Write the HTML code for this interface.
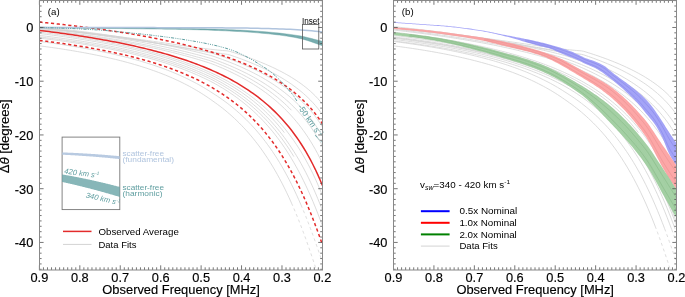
<!DOCTYPE html>
<html><head><meta charset="utf-8"><style>
*{margin:0;padding:0}
html,body{width:685px;height:297px;overflow:hidden;background:#fff}
svg{display:block;will-change:transform}
text{font-family:"Liberation Sans",sans-serif;fill:#000;stroke:#000;stroke-width:0.15px}
.nb{stroke:none}
.tc,.lb{stroke:none}
.tc{fill:#5f9ea0}
.lb{fill:#b0c4de}
</style></head>
<body>
<svg width="685" height="297" viewBox="0 0 685 297">
<defs>
<clipPath id="clipa"><rect x="39.4" y="0.6" width="283.0" height="268.7"/></clipPath>
<clipPath id="clipb"><rect x="393.5" y="0.6" width="283.0" height="268.7"/></clipPath>
</defs>
<rect width="685" height="297" fill="#fff"/>
<g fill="none" stroke="#d3d3d3" stroke-width="0.8" clip-path="url(#clipa)"><path d="M39.4,27.9 L41.78,28.12 L44.16,28.35 L46.53,28.58 L48.91,28.81 L51.29,29.04 L53.67,29.28 L56.05,29.51 L58.43,29.75 L60.8,30 L63.18,30.24 L65.56,30.49 L67.94,30.74 L70.32,30.99 L72.69,31.24 L75.07,31.5 L77.45,31.76 L79.83,32.02 L82.21,32.29 L84.58,32.55 L86.96,32.82 L89.34,33.1 L91.72,33.37 L94.1,33.65 L96.48,33.93 L98.85,34.21 L101.23,34.5 L103.61,34.78 L105.99,35.07 L108.37,35.37 L110.74,35.66 L113.12,35.96 L115.5,36.26 L117.88,36.57 L120.26,36.87 L122.64,37.18 L125.01,37.49 L127.39,37.8 L129.77,38.12 L132.15,38.44 L134.53,38.76 L136.9,39.08 L139.28,39.41 L141.66,39.73 L144.04,40.06 L146.42,40.39 L148.79,40.72 L151.17,41.06 L153.55,41.39 L155.93,41.73 L158.31,42.07 L160.69,42.41 L163.06,42.75 L165.44,43.09 L167.82,43.44 L170.2,43.78 L172.58,44.12 L174.95,44.46 L177.33,44.8 L179.71,45.15 L182.09,45.48 L184.47,45.82 L186.85,46.16 L189.22,46.49 L191.6,46.82 L193.98,47.15 L196.36,47.47 L198.74,47.79 L201.11,48.1 L203.49,48.4 L205.87,48.7 L208.25,48.99 L210.63,49.27 L213.01,49.54 L215.38,49.8 L217.76,50.04 L220.14,50.27 L222.52,50.49 L224.9,50.69 L227.27,50.86 L229.65,51.33 L232.03,52.06 L234.41,52.8 L236.79,53.55 L239.16,54.33 L241.54,55.12 L243.92,55.92 L246.3,56.75 L248.68,57.59 L251.06,58.46 L253.43,59.34 L255.81,60.25 L258.19,61.18 L260.57,62.13 L262.95,63.11 L265.32,64.12 L267.7,65.15 L270.08,66.21 L272.46,67.3 L274.84,68.42 L277.22,69.58 L279.59,70.78 L281.97,72.01 L284.35,73.29 L286.73,74.61 L289.11,75.98 L291.48,77.4 L293.86,78.88 L296.24,80.42 L298.62,82.02 L301,83.7 L303.37,85.47 L305.75,87.32 L308.13,89.28 L310.51,91.34 L312.89,93.54 L315.27,95.88 L317.64,98.38 L320.02,101.08 L322.4,103.99"/><path d="M39.4,28.31 L41.78,28.55 L44.16,28.78 L46.53,29.02 L48.91,29.26 L51.29,29.5 L53.67,29.75 L56.05,29.99 L58.43,30.25 L60.8,30.5 L63.18,30.75 L65.56,31.01 L67.94,31.27 L70.32,31.54 L72.69,31.8 L75.07,32.07 L77.45,32.35 L79.83,32.62 L82.21,32.9 L84.58,33.18 L86.96,33.46 L89.34,33.75 L91.72,34.04 L94.1,34.33 L96.48,34.63 L98.85,34.93 L101.23,35.23 L103.61,35.53 L105.99,35.84 L108.37,36.15 L110.74,36.47 L113.12,36.79 L115.5,37.11 L117.88,37.43 L120.26,37.76 L122.64,38.09 L125.01,38.42 L127.39,38.76 L129.77,39.1 L132.15,39.44 L134.53,39.79 L136.9,40.14 L139.28,40.49 L141.66,40.85 L144.04,41.21 L146.42,41.57 L148.79,41.93 L151.17,42.3 L153.55,42.67 L155.93,43.04 L158.31,43.42 L160.69,43.8 L163.06,44.18 L165.44,44.56 L167.82,44.95 L170.2,45.33 L172.58,45.72 L174.95,46.11 L177.33,46.5 L179.71,46.9 L182.09,47.29 L184.47,47.69 L186.85,48.08 L189.22,48.47 L191.6,48.87 L193.98,49.26 L196.36,49.65 L198.74,50.05 L201.11,50.43 L203.49,50.82 L205.87,51.2 L208.25,51.58 L210.63,51.95 L213.01,52.31 L215.38,52.67 L217.76,53.02 L220.14,53.36 L222.52,53.7 L224.9,54.02 L227.27,54.32 L229.65,54.89 L232.03,55.69 L234.41,56.5 L236.79,57.34 L239.16,58.19 L241.54,59.07 L243.92,59.96 L246.3,60.88 L248.68,61.82 L251.06,62.78 L253.43,63.77 L255.81,64.78 L258.19,65.82 L260.57,66.89 L262.95,67.99 L265.32,69.12 L267.7,70.28 L270.08,71.48 L272.46,72.72 L274.84,73.99 L277.22,75.3 L279.59,76.66 L281.97,78.06 L284.35,79.52 L286.73,81.02 L289.11,82.59 L291.48,84.21 L293.86,85.91 L296.24,87.67 L298.62,89.51 L301,91.44 L303.37,93.45 L305.75,95.58 L308.13,97.81 L310.51,100.17 L312.89,102.68 L315.27,105.34 L317.64,108.17 L320.02,111.21 L322.4,114.48"/><path d="M39.4,27.9 L41.78,28.13 L44.16,28.37 L46.53,28.61 L48.91,28.86 L51.29,29.1 L53.67,29.35 L56.05,29.61 L58.43,29.86 L60.8,30.12 L63.18,30.38 L65.56,30.64 L67.94,30.91 L70.32,31.18 L72.69,31.45 L75.07,31.72 L77.45,32 L79.83,32.28 L82.21,32.57 L84.58,32.85 L86.96,33.14 L89.34,33.44 L91.72,33.73 L94.1,34.03 L96.48,34.34 L98.85,34.64 L101.23,34.95 L103.61,35.27 L105.99,35.59 L108.37,35.91 L110.74,36.23 L113.12,36.56 L115.5,36.89 L117.88,37.22 L120.26,37.56 L122.64,37.9 L125.01,38.25 L127.39,38.6 L129.77,38.95 L132.15,39.31 L134.53,39.67 L136.9,40.03 L139.28,40.4 L141.66,40.77 L144.04,41.14 L146.42,41.52 L148.79,41.9 L151.17,42.29 L153.55,42.68 L155.93,43.07 L158.31,43.47 L160.69,43.87 L163.06,44.27 L165.44,44.68 L167.82,45.09 L170.2,45.5 L172.58,45.92 L174.95,46.34 L177.33,46.76 L179.71,47.19 L182.09,47.61 L184.47,48.04 L186.85,48.47 L189.22,48.91 L191.6,49.34 L193.98,49.78 L196.36,50.21 L198.74,50.65 L201.11,51.09 L203.49,51.52 L205.87,51.96 L208.25,52.39 L210.63,52.83 L213.01,53.42 L215.38,54.18 L217.76,54.95 L220.14,55.74 L222.52,56.54 L224.9,57.37 L227.27,58.21 L229.65,59.07 L232.03,59.96 L234.41,60.86 L236.79,61.79 L239.16,62.74 L241.54,63.71 L243.92,64.71 L246.3,65.73 L248.68,66.78 L251.06,67.86 L253.43,68.97 L255.81,70.11 L258.19,71.28 L260.57,72.49 L262.95,73.73 L265.32,75.01 L267.7,76.32 L270.08,77.68 L272.46,79.08 L274.84,80.53 L277.22,82.03 L279.59,83.58 L281.97,85.18 L284.35,86.85 L286.73,88.57 L289.11,90.37 L291.48,92.23 L293.86,94.17 L296.24,96.2 L298.62,98.32 L301,100.53 L303.37,102.85 L305.75,105.29 L308.13,107.86 L310.51,110.56 L312.89,113.42 L315.27,116.46 L317.64,119.69 L320.02,123.14 L322.4,126.83"/><path d="M39.4,26.65 L41.78,26.89 L44.16,27.14 L46.53,27.4 L48.91,27.65 L51.29,27.91 L53.67,28.17 L56.05,28.44 L58.43,28.71 L60.8,28.98 L63.18,29.25 L65.56,29.53 L67.94,29.81 L70.32,30.1 L72.69,30.38 L75.07,30.67 L77.45,30.97 L79.83,31.27 L82.21,31.57 L84.58,31.88 L86.96,32.19 L89.34,32.5 L91.72,32.82 L94.1,33.14 L96.48,33.47 L98.85,33.8 L101.23,34.13 L103.61,34.47 L105.99,34.81 L108.37,35.16 L110.74,35.51 L113.12,35.87 L115.5,36.23 L117.88,36.6 L120.26,36.97 L122.64,37.34 L125.01,37.72 L127.39,38.11 L129.77,38.5 L132.15,38.9 L134.53,39.3 L136.9,39.7 L139.28,40.12 L141.66,40.53 L144.04,40.96 L146.42,41.39 L148.79,41.82 L151.17,42.26 L153.55,42.71 L155.93,43.16 L158.31,43.62 L160.69,44.09 L163.06,44.56 L165.44,45.04 L167.82,45.52 L170.2,46.02 L172.58,46.51 L174.95,47.02 L177.33,47.53 L179.71,48.05 L182.09,48.58 L184.47,49.11 L186.85,49.65 L189.22,50.2 L191.6,50.75 L193.98,51.32 L196.36,51.89 L198.74,52.46 L201.11,53.05 L203.49,53.64 L205.87,54.24 L208.25,54.84 L210.63,55.46 L213.01,56.17 L215.38,56.97 L217.76,57.8 L220.14,58.64 L222.52,59.5 L224.9,60.38 L227.27,61.29 L229.65,62.21 L232.03,63.16 L234.41,64.13 L236.79,65.13 L239.16,66.15 L241.54,67.2 L243.92,68.27 L246.3,69.38 L248.68,70.51 L251.06,71.68 L253.43,72.87 L255.81,74.11 L258.19,75.38 L260.57,76.68 L262.95,78.03 L265.32,79.42 L267.7,80.85 L270.08,82.33 L272.46,83.86 L274.84,85.44 L277.22,87.08 L279.59,88.77 L281.97,90.53 L284.35,92.35 L286.73,94.24 L289.11,96.2 L291.48,98.25 L293.86,100.38 L296.24,102.6 L298.62,104.92 L301,107.35 L303.37,109.9 L305.75,112.57 L308.13,115.39 L310.51,118.35 L312.89,121.49 L315.27,124.8 L317.64,128.33 L320.02,132.08 L322.4,136.09"/><path d="M39.4,27.81 L41.78,28.07 L44.16,28.33 L46.53,28.59 L48.91,28.85 L51.29,29.12 L53.67,29.39 L56.05,29.67 L58.43,29.94 L60.8,30.23 L63.18,30.51 L65.56,30.8 L67.94,31.09 L70.32,31.39 L72.69,31.68 L75.07,31.99 L77.45,32.29 L79.83,32.6 L82.21,32.92 L84.58,33.24 L86.96,33.56 L89.34,33.89 L91.72,34.22 L94.1,34.55 L96.48,34.89 L98.85,35.24 L101.23,35.59 L103.61,35.94 L105.99,36.3 L108.37,36.66 L110.74,37.03 L113.12,37.4 L115.5,37.78 L117.88,38.17 L120.26,38.55 L122.64,38.95 L125.01,39.35 L127.39,39.75 L129.77,40.16 L132.15,40.58 L134.53,41 L136.9,41.43 L139.28,41.87 L141.66,42.31 L144.04,42.75 L146.42,43.21 L148.79,43.67 L151.17,44.14 L153.55,44.61 L155.93,45.09 L158.31,45.58 L160.69,46.07 L163.06,46.57 L165.44,47.08 L167.82,47.6 L170.2,48.13 L172.58,48.66 L174.95,49.2 L177.33,49.75 L179.71,50.3 L182.09,50.87 L184.47,51.44 L186.85,52.02 L189.22,52.61 L191.6,53.21 L193.98,53.82 L196.36,54.44 L198.74,55.06 L201.11,55.7 L203.49,56.34 L205.87,57 L208.25,57.66 L210.63,58.33 L213.01,59.1 L215.38,59.96 L217.76,60.84 L220.14,61.74 L222.52,62.66 L224.9,63.6 L227.27,64.57 L229.65,65.56 L232.03,66.58 L234.41,67.62 L236.79,68.69 L239.16,69.78 L241.54,70.91 L243.92,72.07 L246.3,73.26 L248.68,74.48 L251.06,75.74 L253.43,77.04 L255.81,78.37 L258.19,79.75 L260.57,81.16 L262.95,82.62 L265.32,84.13 L267.7,85.69 L270.08,87.29 L272.46,88.96 L274.84,90.68 L277.22,92.46 L279.59,94.31 L281.97,96.22 L284.35,98.21 L286.73,100.28 L289.11,102.42 L291.48,104.66 L293.86,106.99 L296.24,109.43 L298.62,111.97 L301,114.63 L303.37,117.42 L305.75,120.34 L308.13,123.42 L310.51,126.66 L312.89,130.08 L315.27,133.7 L317.64,137.54 L320.02,141.62 L322.4,145.96"/><path d="M39.4,29.15 L41.78,29.41 L44.16,29.67 L46.53,29.94 L48.91,30.21 L51.29,30.49 L53.67,30.77 L56.05,31.05 L58.43,31.34 L60.8,31.63 L63.18,31.92 L65.56,32.22 L67.94,32.52 L70.32,32.82 L72.69,33.13 L75.07,33.44 L77.45,33.76 L79.83,34.08 L82.21,34.4 L84.58,34.73 L86.96,35.06 L89.34,35.4 L91.72,35.74 L94.1,36.09 L96.48,36.44 L98.85,36.79 L101.23,37.15 L103.61,37.52 L105.99,37.89 L108.37,38.26 L110.74,38.64 L113.12,39.03 L115.5,39.42 L117.88,39.82 L120.26,40.22 L122.64,40.63 L125.01,41.04 L127.39,41.46 L129.77,41.89 L132.15,42.32 L134.53,42.76 L136.9,43.2 L139.28,43.65 L141.66,44.11 L144.04,44.58 L146.42,45.05 L148.79,45.53 L151.17,46.01 L153.55,46.5 L155.93,47 L158.31,47.51 L160.69,48.03 L163.06,48.55 L165.44,49.08 L167.82,49.62 L170.2,50.17 L172.58,50.72 L174.95,51.29 L177.33,51.86 L179.71,52.44 L182.09,53.03 L184.47,53.63 L186.85,54.24 L189.22,54.86 L191.6,55.48 L193.98,56.12 L196.36,56.77 L198.74,57.42 L201.11,58.09 L203.49,58.77 L205.87,59.45 L208.25,60.15 L210.63,60.86 L213.01,61.66 L215.38,62.57 L217.76,63.5 L220.14,64.45 L222.52,65.42 L224.9,66.42 L227.27,67.44 L229.65,68.49 L232.03,69.56 L234.41,70.67 L236.79,71.8 L239.16,72.97 L241.54,74.16 L243.92,75.39 L246.3,76.66 L248.68,77.96 L251.06,79.3 L253.43,80.68 L255.81,82.1 L258.19,83.57 L260.57,85.08 L262.95,86.64 L265.32,88.25 L267.7,89.91 L270.08,91.64 L272.46,93.42 L274.84,95.26 L277.22,97.17 L279.59,99.15 L281.97,101.21 L284.35,103.34 L286.73,105.56 L289.11,107.87 L291.48,110.27"/><path d="M39.4,29.98 L41.78,30.25 L44.16,30.52 L46.53,30.8 L48.91,31.08 L51.29,31.36 L53.67,31.65 L56.05,31.94 L58.43,32.24 L60.8,32.53 L63.18,32.84 L65.56,33.14 L67.94,33.45 L70.32,33.77 L72.69,34.08 L75.07,34.41 L77.45,34.73 L79.83,35.06 L82.21,35.4 L84.58,35.74 L86.96,36.08 L89.34,36.43 L91.72,36.79 L94.1,37.15 L96.48,37.51 L98.85,37.88 L101.23,38.25 L103.61,38.63 L105.99,39.02 L108.37,39.41 L110.74,39.8 L113.12,40.2 L115.5,40.61 L117.88,41.02 L120.26,41.44 L122.64,41.87 L125.01,42.3 L127.39,42.74 L129.77,43.18 L132.15,43.64 L134.53,44.09 L136.9,44.56 L139.28,45.03 L141.66,45.51 L144.04,46 L146.42,46.49 L148.79,47 L151.17,47.51 L153.55,48.03 L155.93,48.55 L158.31,49.09 L160.69,49.63 L163.06,50.18 L165.44,50.75 L167.82,51.32 L170.2,51.9 L172.58,52.48 L174.95,53.08 L177.33,53.69 L179.71,54.31 L182.09,54.94 L184.47,55.58 L186.85,56.23 L189.22,56.89 L191.6,57.56 L193.98,58.25 L196.36,58.94 L198.74,59.65 L201.11,60.37 L203.49,61.1 L205.87,61.84 L208.25,62.6 L210.63,63.37 L213.01,64.23 L215.38,65.18 L217.76,66.16 L220.14,67.16 L222.52,68.18 L224.9,69.23 L227.27,70.31 L229.65,71.42 L232.03,72.55 L234.41,73.72 L236.79,74.92 L239.16,76.15 L241.54,77.42 L243.92,78.72 L246.3,80.06 L248.68,81.44 L251.06,82.86 L253.43,84.32 L255.81,85.83 L258.19,87.39 L260.57,89 L262.95,90.66 L265.32,92.37 L267.7,94.14 L270.08,95.98 L272.46,97.88 L274.84,99.84 L277.22,101.88 L279.59,103.99 L281.97,106.19 L284.35,108.47 L286.73,110.84 L289.11,113.31 L291.48,115.89 L293.86,118.57 L296.24,121.37 L298.62,124.3 L301,127.36 L303.37,130.57 L305.75,133.94 L308.13,137.48 L310.51,141.21 L312.89,145.13 L315.27,149.28 L317.64,153.66 L320.02,158.31 L322.4,163.25"/><path d="M39.4,32.1 L41.78,32.39 L44.16,32.69 L46.53,32.99 L48.91,33.29 L51.29,33.6 L53.67,33.91 L56.05,34.23 L58.43,34.55 L60.8,34.88 L63.18,35.21 L65.56,35.55 L67.94,35.89 L70.32,36.23 L72.69,36.59 L75.07,36.94 L77.45,37.3 L79.83,37.67 L82.21,38.04 L84.58,38.42 L86.96,38.81 L89.34,39.2 L91.72,39.6 L94.1,40 L96.48,40.41 L98.85,40.83 L101.23,41.25 L103.61,41.68 L105.99,42.12 L108.37,42.57 L110.74,43.02 L113.12,43.48 L115.5,43.95 L117.88,44.42 L120.26,44.91 L122.64,45.4 L125.01,45.9 L127.39,46.42 L129.77,46.94 L132.15,47.47 L134.53,48.01 L136.9,48.56 L139.28,49.12 L141.66,49.69 L144.04,50.27 L146.42,50.86 L148.79,51.47 L151.17,52.08 L153.55,52.71 L155.93,53.35 L158.31,54 L160.69,54.67 L163.06,55.35 L165.44,56.05 L167.82,56.76 L170.2,57.48 L172.58,58.22 L174.95,58.98 L177.33,59.75 L179.71,60.54 L182.09,61.35 L184.47,62.18 L186.85,63.02 L189.22,63.89 L191.6,64.77 L193.98,65.68 L196.36,66.6 L198.74,67.55 L201.11,68.53 L203.49,69.52 L205.87,70.55 L208.25,71.59 L210.63,72.67 L213.01,73.77 L215.38,74.9 L217.76,76.06 L220.14,77.26 L222.52,78.48 L224.9,79.74 L227.27,81.03 L229.65,82.37 L232.03,83.73 L234.41,85.14 L236.79,86.59 L239.16,88.09 L241.54,89.63 L243.92,91.21 L246.3,92.85 L248.68,94.53 L251.06,96.27 L253.43,98.07 L255.81,99.93 L258.19,101.85 L260.57,103.83 L262.95,105.88 L265.32,108.01 L267.7,110.21 L270.08,112.49 L272.46,114.85 L274.84,117.3 L277.22,119.85 L279.59,122.49 L281.97,125.24 L284.35,128.09 L286.73,131.06 L289.11,134.16 L291.48,137.38 L293.86,140.74 L296.24,144.25 L298.62,147.91 L301,151.73 L303.37,155.73 L305.75,159.91 L308.13,164.3 L310.51,168.89 L312.89,173.7 L315.27,178.76 L317.64,184.06 L320.02,189.64 L322.4,195.5"/><path d="M39.4,33.5 L41.78,33.79 L44.16,34.09 L46.53,34.39 L48.91,34.69 L51.29,35 L53.67,35.31 L56.05,35.63 L58.43,35.95 L60.8,36.28 L63.18,36.61 L65.56,36.94 L67.94,37.29 L70.32,37.63 L72.69,37.98 L75.07,38.34 L77.45,38.71 L79.83,39.07 L82.21,39.45 L84.58,39.83 L86.96,40.22 L89.34,40.61 L91.72,41.01 L94.1,41.42 L96.48,41.83 L98.85,42.25 L101.23,42.67 L103.61,43.11 L105.99,43.55 L108.37,44 L110.74,44.46 L113.12,44.92 L115.5,45.39 L117.88,45.88 L120.26,46.37 L122.64,46.87 L125.01,47.37 L127.39,47.89 L129.77,48.42 L132.15,48.96 L134.53,49.5 L136.9,50.06 L139.28,50.63 L141.66,51.21 L144.04,51.8 L146.42,52.4 L148.79,53.02 L151.17,53.64 L153.55,54.28 L155.93,54.94 L158.31,55.6 L160.69,56.28 L163.06,56.98 L165.44,57.69 L167.82,58.41 L170.2,59.15 L172.58,59.91 L174.95,60.68 L177.33,61.47 L179.71,62.28 L182.09,63.1 L184.47,63.95 L186.85,64.81 L189.22,65.7 L191.6,66.61 L193.98,67.54 L196.36,68.49 L198.74,69.46 L201.11,70.46 L203.49,71.48 L205.87,72.53 L208.25,73.61 L210.63,74.71 L213.01,75.85 L215.38,77.02 L217.76,78.23 L220.14,79.47 L222.52,80.74 L224.9,82.05 L227.27,83.39 L229.65,84.78 L232.03,86.2 L234.41,87.67 L236.79,89.18 L239.16,90.74 L241.54,92.34 L243.92,94 L246.3,95.7 L248.68,97.47 L251.06,99.29 L253.43,101.17 L255.81,103.11 L258.19,105.12 L260.57,107.19 L262.95,109.34 L265.32,111.57 L267.7,113.88 L270.08,116.27 L272.46,118.74 L274.84,121.31 L277.22,123.98 L279.59,126.75 L281.97,129.64 L284.35,132.63"/><path d="M39.4,35.4 L41.78,35.69 L44.16,35.98 L46.53,36.28 L48.91,36.58 L51.29,36.88 L53.67,37.19 L56.05,37.51 L58.43,37.82 L60.8,38.15 L63.18,38.48 L65.56,38.81 L67.94,39.15 L70.32,39.5 L72.69,39.85 L75.07,40.2 L77.45,40.56 L79.83,40.93 L82.21,41.3 L84.58,41.68 L86.96,42.07 L89.34,42.46 L91.72,42.86 L94.1,43.27 L96.48,43.68 L98.85,44.1 L101.23,44.53 L103.61,44.96 L105.99,45.4 L108.37,45.85 L110.74,46.31 L113.12,46.78 L115.5,47.25 L117.88,47.74 L120.26,48.23 L122.64,48.73 L125.01,49.24 L127.39,49.77 L129.77,50.3 L132.15,50.84 L134.53,51.39 L136.9,51.95 L139.28,52.52 L141.66,53.11 L144.04,53.71 L146.42,54.31 L148.79,54.94 L151.17,55.57 L153.55,56.22 L155.93,56.88 L158.31,57.55 L160.69,58.24 L163.06,58.94 L165.44,59.66 L167.82,60.39 L170.2,61.14 L172.58,61.91 L174.95,62.69 L177.33,63.5 L179.71,64.32 L182.09,65.15 L184.47,66.01 L186.85,66.89 L189.22,67.79 L191.6,68.71 L193.98,69.65 L196.36,70.62 L198.74,71.61 L201.11,72.62 L203.49,73.66 L205.87,74.72 L208.25,75.81 L210.63,76.93 L213.01,78.1 L215.38,79.32 L217.76,80.57 L220.14,81.86 L222.52,83.18 L224.9,84.54 L227.27,85.95 L229.65,87.39 L232.03,88.87 L234.41,90.4 L236.79,91.98 L239.16,93.61 L241.54,95.28 L243.92,97.01 L246.3,98.8 L248.68,100.64 L251.06,102.55 L253.43,104.52 L255.81,106.55 L258.19,108.66 L260.57,110.84 L262.95,113.09 L265.32,115.43 L267.7,117.85 L270.08,120.36 L272.46,122.96 L274.84,125.66 L277.22,128.46 L279.59,131.37 L281.97,134.4 L284.35,137.54 L286.73,140.82 L289.11,144.22 L291.48,147.76 L293.86,151.46 L296.24,155.3 L298.62,159.31 L301,163.49 L303.37,167.85 L305.75,172.4 L308.13,177.14 L310.51,182.1 L312.89,187.27 L315.27,192.66 L317.64,198.29 L320.02,204.15 L322.4,210.26"/><path d="M39.4,36.9 L41.78,37.19 L44.16,37.48 L46.53,37.77 L48.91,38.07 L51.29,38.38 L53.67,38.69 L56.05,39 L58.43,39.32 L60.8,39.64 L63.18,39.97 L65.56,40.3 L67.94,40.64 L70.32,40.99 L72.69,41.34 L75.07,41.69 L77.45,42.05 L79.83,42.42 L82.21,42.8 L84.58,43.18 L86.96,43.56 L89.34,43.96 L91.72,44.36 L94.1,44.77 L96.48,45.18 L98.85,45.6 L101.23,46.03 L103.61,46.47 L105.99,46.91 L108.37,47.37 L110.74,47.83 L113.12,48.3 L115.5,48.78 L117.88,49.27 L120.26,49.76 L122.64,50.27 L125.01,50.79 L127.39,51.31 L129.77,51.85 L132.15,52.4 L134.53,52.96 L136.9,53.52 L139.28,54.11 L141.66,54.7 L144.04,55.3 L146.42,55.92 L148.79,56.55 L151.17,57.19 L153.55,57.85 L155.93,58.52 L158.31,59.2 L160.69,59.9 L163.06,60.62 L165.44,61.35 L167.82,62.1 L170.2,62.86 L172.58,63.64 L174.95,64.44 L177.33,65.26 L179.71,66.09 L182.09,66.95 L184.47,67.82 L186.85,68.72 L189.22,69.63 L191.6,70.57 L193.98,71.54 L196.36,72.52 L198.74,73.53 L201.11,74.57 L203.49,75.63 L205.87,76.72 L208.25,77.84 L210.63,78.98 L213.01,80.18 L215.38,81.44 L217.76,82.74 L220.14,84.07 L222.52,85.44 L224.9,86.85 L227.27,88.3 L229.65,89.8 L232.03,91.34 L234.41,92.93 L236.79,94.57 L239.16,96.26 L241.54,98 L243.92,99.8 L246.3,101.66 L248.68,103.58 L251.06,105.56 L253.43,107.61 L255.81,109.73 L258.19,111.93 L260.57,114.2 L262.95,116.55 L265.32,118.99 L267.7,121.51 L270.08,124.13 L272.46,126.85 L274.84,129.67 L277.22,132.6 L279.59,135.64 L281.97,138.8 L284.35,142.08 L286.73,145.5 L289.11,149.05 L291.48,152.75 L293.86,156.6"/><path d="M39.4,38.11 L41.78,38.39 L44.16,38.69 L46.53,38.98 L48.91,39.28 L51.29,39.59 L53.67,39.9 L56.05,40.22 L58.43,40.54 L60.8,40.86 L63.18,41.19 L65.56,41.53 L67.94,41.87 L70.32,42.22 L72.69,42.58 L75.07,42.94 L77.45,43.3 L79.83,43.68 L82.21,44.06 L84.58,44.44 L86.96,44.83 L89.34,45.23 L91.72,45.64 L94.1,46.05 L96.48,46.47 L98.85,46.9 L101.23,47.34 L103.61,47.78 L105.99,48.24 L108.37,48.7 L110.74,49.17 L113.12,49.65 L115.5,50.14 L117.88,50.63 L120.26,51.14 L122.64,51.66 L125.01,52.19 L127.39,52.72 L129.77,53.27 L132.15,53.83 L134.53,54.4 L136.9,54.99 L139.28,55.58 L141.66,56.19 L144.04,56.81 L146.42,57.44 L148.79,58.09 L151.17,58.75 L153.55,59.43 L155.93,60.12 L158.31,60.82 L160.69,61.54 L163.06,62.28 L165.44,63.03 L167.82,63.8 L170.2,64.59 L172.58,65.4 L174.95,66.22 L177.33,67.07 L179.71,67.93 L182.09,68.82 L184.47,69.73 L186.85,70.66 L189.22,71.61 L191.6,72.59 L193.98,73.59 L196.36,74.61 L198.74,75.67 L201.11,76.75 L203.49,77.85 L205.87,78.99 L208.25,80.16 L210.63,81.36 L213.01,82.61 L215.38,83.92 L217.76,85.26 L220.14,86.65 L222.52,88.07 L224.9,89.54 L227.27,91.05 L229.65,92.61 L232.03,94.22 L234.41,95.87 L236.79,97.58 L239.16,99.35 L241.54,101.17 L243.92,103.05 L246.3,104.99 L248.68,107 L251.06,109.07 L253.43,111.22 L255.81,113.44 L258.19,115.74 L260.57,118.12 L262.95,120.59 L265.32,123.14 L267.7,125.79 L270.08,128.54 L272.46,131.39 L274.84,134.35 L277.22,137.42 L279.59,140.61 L281.97,143.93 L284.35,147.37 L286.73,150.96 L289.11,154.69 L291.48,158.56 L293.86,162.6 L296.24,166.8 L298.62,171.17 L301,175.72 L303.37,180.45 L305.75,185.38 L308.13,190.51 L310.51,195.84 L312.89,201.37 L315.27,207.12 L317.64,213.08 L320.02,219.25 L322.4,225.62"/><path d="M39.4,41.41 L41.78,41.72 L44.16,42.03 L46.53,42.36 L48.91,42.68 L51.29,43.01 L53.67,43.35 L56.05,43.69 L58.43,44.04 L60.8,44.39 L63.18,44.75 L65.56,45.12 L67.94,45.49 L70.32,45.87 L72.69,46.26 L75.07,46.65 L77.45,47.05 L79.83,47.46 L82.21,47.88 L84.58,48.3 L86.96,48.73 L89.34,49.17 L91.72,49.62 L94.1,50.08 L96.48,50.54 L98.85,51.02 L101.23,51.5 L103.61,51.99 L105.99,52.5 L108.37,53.01 L110.74,53.54 L113.12,54.07 L115.5,54.62 L117.88,55.18 L120.26,55.75 L122.64,56.33 L125.01,56.92 L127.39,57.53 L129.77,58.15 L132.15,58.79 L134.53,59.44 L136.9,60.1 L139.28,60.78 L141.66,61.48 L144.04,62.19 L146.42,62.92 L148.79,63.66 L151.17,64.43 L153.55,65.21 L155.93,66.01 L158.31,66.83 L160.69,67.67 L163.06,68.54 L165.44,69.42 L167.82,70.33 L170.2,71.27 L172.58,72.22 L174.95,73.21 L177.33,74.22 L179.71,75.26 L182.09,76.32 L184.47,77.42 L186.85,78.55 L189.22,79.7 L191.6,80.9 L193.98,82.13 L196.36,83.39 L198.74,84.69 L201.11,86.04 L203.49,87.42 L205.87,88.85 L208.25,90.32 L210.63,91.83 L213.01,93.35 L215.38,94.88 L217.76,96.44 L220.14,98.06 L222.52,99.73 L224.9,101.45 L227.27,103.23 L229.65,105.07 L232.03,106.96 L234.41,108.92 L236.79,110.94 L239.16,113.03 L241.54,115.2 L243.92,117.44 L246.3,119.75 L248.68,122.15 L251.06,124.63 L253.43,127.2 L255.81,129.87 L258.19,132.63 L260.57,135.49 L262.95,138.46 L265.32,141.54 L267.7,144.73 L270.08,148.05 L272.46,151.49 L274.84,155.07 L277.22,158.78 L279.59,162.64 L281.97,166.65 L284.35,170.82 L286.73,175.14 L289.11,179.64 L291.48,184.32 L293.86,189.17 L296.24,194.21 L298.62,199.45 L301,204.88"/><path d="M39.4,45.82 L41.78,46.13 L44.16,46.45 L46.53,46.77 L48.91,47.1 L51.29,47.43 L53.67,47.77 L56.05,48.12 L58.43,48.47 L60.8,48.83 L63.18,49.2 L65.56,49.57 L67.94,49.96 L70.32,50.34 L72.69,50.74 L75.07,51.14 L77.45,51.55 L79.83,51.97 L82.21,52.4 L84.58,52.84 L86.96,53.28 L89.34,53.73 L91.72,54.2 L94.1,54.67 L96.48,55.15 L98.85,55.64 L101.23,56.15 L103.61,56.66 L105.99,57.18 L108.37,57.72 L110.74,58.27 L113.12,58.83 L115.5,59.4 L117.88,59.98 L120.26,60.58 L122.64,61.19 L125.01,61.82 L127.39,62.46 L129.77,63.11 L132.15,63.78 L134.53,64.47 L136.9,65.17 L139.28,65.89 L141.66,66.63 L144.04,67.38 L146.42,68.16 L148.79,68.95 L151.17,69.77 L153.55,70.6 L155.93,71.46 L158.31,72.34 L160.69,73.24 L163.06,74.17 L165.44,75.12 L167.82,76.09 L170.2,77.1 L172.58,78.13 L174.95,79.19 L177.33,80.28 L179.71,81.4 L182.09,82.56 L184.47,83.75 L186.85,84.97 L189.22,86.23 L191.6,87.53 L193.98,88.86 L196.36,90.24 L198.74,91.66 L201.11,93.13 L203.49,94.64 L205.87,96.2 L208.25,97.82 L210.63,99.48 L213.01,101.15 L215.38,102.83 L217.76,104.56 L220.14,106.35 L222.52,108.19 L224.9,110.1 L227.27,112.07 L229.65,114.11 L232.03,116.21 L234.41,118.39 L236.79,120.64 L239.16,122.97 L241.54,125.38 L243.92,127.88 L246.3,130.47 L248.68,133.15 L251.06,135.92 L253.43,138.8 L255.81,141.79 L258.19,144.88 L260.57,148.1 L262.95,151.43 L265.32,154.89 L267.7,158.48 L270.08,162.21 L272.46,166.08 L274.84,170.11 L277.22,174.29 L279.59,178.63 L281.97,183.14 L284.35,187.83 L286.73,192.7 L289.11,197.76 L291.48,203.01"/><g stroke-dasharray="3,3" stroke="#d6d6d6"><path d="M301,204.88 L303.37,210.51 L305.75,216.34 L308.13,222.37 L310.51,228.6 L312.89,235.01 L315.27,241.61 L317.64,248.36 L320.02,255.24 L322.4,262.22"/><path d="M291.48,203.01 L293.86,208.46 L296.24,214.11 L298.62,219.97 L301,226.04 L303.37,232.32 L305.75,238.81 L308.13,245.5 L310.51,252.37 L312.89,259.43 L315.27,266.64 L317.64,273.96 L320.02,281.37 L322.4,288.79"/></g></g>
<g clip-path="url(#clipa)"><path d="M39.4,30.4 L41.78,30.69 L44.16,30.98 L46.53,31.28 L48.91,31.59 L51.29,31.89 L53.67,32.2 L56.05,32.52 L58.43,32.84 L60.8,33.16 L63.18,33.49 L65.56,33.83 L67.94,34.17 L70.32,34.51 L72.69,34.86 L75.07,35.21 L77.45,35.57 L79.83,35.93 L82.21,36.3 L84.58,36.68 L86.96,37.06 L89.34,37.44 L91.72,37.84 L94.1,38.23 L96.48,38.64 L98.85,39.05 L101.23,39.47 L103.61,39.89 L105.99,40.32 L108.37,40.76 L110.74,41.2 L113.12,41.65 L115.5,42.11 L117.88,42.58 L120.26,43.05 L122.64,43.54 L125.01,44.03 L127.39,44.53 L129.77,45.04 L132.15,45.55 L134.53,46.08 L136.9,46.61 L139.28,47.16 L141.66,47.72 L144.04,48.28 L146.42,48.86 L148.79,49.44 L151.17,50.04 L153.55,50.65 L155.93,51.27 L158.31,51.9 L160.69,52.55 L163.06,53.21 L165.44,53.88 L167.82,54.56 L170.2,55.26 L172.58,55.97 L174.95,56.7 L177.33,57.45 L179.71,58.2 L182.09,58.98 L184.47,59.77 L186.85,60.58 L189.22,61.41 L191.6,62.26 L193.98,63.12 L196.36,64.01 L198.74,64.91 L201.11,65.84 L203.49,66.79 L205.87,67.76 L208.25,68.76 L210.63,69.78 L213.01,70.82 L215.38,71.9 L217.76,73 L220.14,74.13 L222.52,75.28 L224.9,76.47 L227.27,77.7 L229.65,78.95 L232.03,80.24 L234.41,81.57 L236.79,82.93 L239.16,84.33 L241.54,85.78 L243.92,87.27 L246.3,88.8 L248.68,90.38 L251.06,92.01 L253.43,93.69 L255.81,95.43 L258.19,97.22 L260.57,99.07 L262.95,100.98 L265.32,102.97 L267.7,105.02 L270.08,107.14 L272.46,109.34 L274.84,111.62 L277.22,113.99 L279.59,116.45 L281.97,119.01 L284.35,121.67 L286.73,124.43 L289.11,127.31 L291.48,130.32 L293.86,133.45 L296.24,136.73 L298.62,140.15 L301,143.74 L303.37,147.49 L305.75,151.43 L308.13,155.56 L310.51,159.9 L312.89,164.48 L315.27,169.3 L317.64,174.39 L320.02,179.77 L322.4,185.47" stroke="#e32b2b" stroke-width="1.5" fill="none"/><path d="M39.4,22.06 L41.78,22.31 L44.16,22.55 L46.53,22.8 L48.91,23.04 L51.29,23.3 L53.67,23.55 L56.05,23.81 L58.43,24.07 L60.8,24.34 L63.18,24.6 L65.56,24.88 L67.94,25.15 L70.32,25.43 L72.69,25.71 L75.07,26 L77.45,26.28 L79.83,26.58 L82.21,26.87 L84.58,27.17 L86.96,27.48 L89.34,27.79 L91.72,28.1 L94.1,28.42 L96.48,28.74 L98.85,29.06 L101.23,29.39 L103.61,29.73 L105.99,30.07 L108.37,30.41 L110.74,30.76 L113.12,31.11 L115.5,31.47 L117.88,31.83 L120.26,32.2 L122.64,32.58 L125.01,32.96 L127.39,33.34 L129.77,33.74 L132.15,34.13 L134.53,34.54 L136.9,34.95 L139.28,35.36 L141.66,35.79 L144.04,36.22 L146.42,36.65 L148.79,37.09 L151.17,37.54 L153.55,38 L155.93,38.47 L158.31,38.94 L160.69,39.42 L163.06,39.91 L165.44,40.41 L167.82,40.91 L170.2,41.43 L172.58,41.95 L174.95,42.48 L177.33,43.03 L179.71,43.58 L182.09,44.14 L184.47,44.71 L186.85,45.29 L189.22,45.89 L191.6,46.49 L193.98,47.11 L196.36,47.74 L198.74,48.38 L201.11,49.03 L203.49,49.7 L205.87,50.38 L208.25,51.07 L210.63,51.78 L213.01,52.5 L215.38,53.24 L217.76,54 L220.14,54.77 L222.52,55.56 L224.9,56.36 L227.27,57.19 L229.65,58.03 L232.03,58.89 L234.41,59.77 L236.79,60.68 L239.16,61.6 L241.54,62.55 L243.92,63.52 L246.3,64.52 L248.68,65.54 L251.06,66.59 L253.43,67.67 L255.81,68.78 L258.19,69.92 L260.57,71.09 L262.95,72.29 L265.32,73.53 L267.7,74.81 L270.08,76.13 L272.46,77.49 L274.84,78.9 L277.22,80.35 L279.59,81.85 L281.97,83.4 L284.35,85.02 L286.73,86.69 L289.11,88.42 L291.48,90.23 L293.86,92.11 L296.24,94.07 L298.62,96.12 L301,98.26 L303.37,100.5 L305.75,102.86 L308.13,105.34 L310.51,107.96 L312.89,110.74 L315.27,113.68 L317.64,116.81 L320.02,120.15 L322.4,123.74" stroke="#e32b2b" stroke-width="1.5" fill="none" stroke-dasharray="3.2,2.6"/><path d="M39.4,40.41 L41.78,40.7 L44.16,41 L46.53,41.31 L48.91,41.62 L51.29,41.93 L53.67,42.25 L56.05,42.58 L58.43,42.91 L60.8,43.24 L63.18,43.59 L65.56,43.93 L67.94,44.29 L70.32,44.65 L72.69,45.02 L75.07,45.39 L77.45,45.77 L79.83,46.15 L82.21,46.55 L84.58,46.95 L86.96,47.36 L89.34,47.77 L91.72,48.2 L94.1,48.63 L96.48,49.07 L98.85,49.51 L101.23,49.97 L103.61,50.44 L105.99,50.91 L108.37,51.39 L110.74,51.89 L113.12,52.39 L115.5,52.9 L117.88,53.43 L120.26,53.96 L122.64,54.51 L125.01,55.06 L127.39,55.63 L129.77,56.21 L132.15,56.81 L134.53,57.41 L136.9,58.03 L139.28,58.66 L141.66,59.31 L144.04,59.97 L146.42,60.65 L148.79,61.34 L151.17,62.04 L153.55,62.77 L155.93,63.51 L158.31,64.26 L160.69,65.04 L163.06,65.83 L165.44,66.64 L167.82,67.48 L170.2,68.33 L172.58,69.2 L174.95,70.1 L177.33,71.02 L179.71,71.96 L182.09,72.93 L184.47,73.92 L186.85,74.94 L189.22,75.98 L191.6,77.05 L193.98,78.16 L196.36,79.29 L198.74,80.45 L201.11,81.65 L203.49,82.87 L205.87,84.14 L208.25,85.44 L210.63,86.78 L213.01,88.15 L215.38,89.57 L217.76,91.03 L220.14,92.54 L222.52,94.09 L224.9,95.69 L227.27,97.34 L229.65,99.04 L232.03,100.79 L234.41,102.61 L236.79,104.48 L239.16,106.41 L241.54,108.41 L243.92,110.47 L246.3,112.61 L248.68,114.82 L251.06,117.1 L253.43,119.47 L255.81,121.92 L258.19,124.46 L260.57,127.08 L262.95,129.81 L265.32,132.64 L267.7,135.57 L270.08,138.61 L272.46,141.76 L274.84,145.04 L277.22,148.45 L279.59,151.98 L281.97,155.66 L284.35,159.47 L286.73,163.44 L289.11,167.57 L291.48,171.86 L293.86,176.31 L296.24,180.95 L298.62,185.76 L301,190.77 L303.37,195.97 L305.75,201.36 L308.13,206.95 L310.51,212.74 L312.89,218.74 L315.27,224.92 L317.64,231.29 L320.02,237.83 L322.4,244.51" stroke="#e32b2b" stroke-width="1.5" fill="none" stroke-dasharray="3.2,2.6"/><path d="M39.4,27.4 L42.98,27.41 L46.56,27.42 L50.15,27.43 L53.73,27.45 L57.31,27.46 L60.89,27.48 L64.48,27.49 L68.06,27.51 L71.64,27.53 L75.22,27.55 L78.81,27.57 L82.39,27.59 L85.97,27.61 L89.55,27.63 L93.13,27.65 L96.72,27.67 L100.3,27.7 L103.88,27.72 L107.46,27.74 L111.05,27.77 L114.63,27.79 L118.21,27.82 L121.79,27.84 L125.37,27.87 L128.96,27.89 L132.54,27.92 L136.12,27.94 L139.7,27.97 L143.29,28 L146.87,28.03 L150.45,28.05 L154.03,28.08 L157.62,28.12 L161.2,28.15 L164.78,28.18 L168.36,28.22 L171.94,28.26 L175.53,28.3 L179.11,28.35 L182.69,28.39 L186.27,28.44 L189.86,28.5 L193.44,28.56 L197.02,28.63 L200.6,28.71 L204.18,28.8 L207.77,28.89 L211.35,29 L214.93,29.11 L218.51,29.23 L222.1,29.36 L225.68,29.5 L229.26,29.64 L232.84,29.79 L236.43,29.94 L240.01,30.1 L243.59,30.28 L247.17,30.47 L250.75,30.7 L254.34,30.94 L257.92,31.2 L261.5,31.48 L265.08,31.77 L268.67,32.08 L272.25,32.4 L275.83,32.75 L279.41,33.12 L282.99,33.52 L286.58,33.95 L290.16,34.42 L293.74,34.92 L297.32,35.47 L300.91,36.06 L304.49,36.79 L308.07,37.64 L311.65,38.56 L315.24,39.5 L318.82,40.4 L322.4,41.3 L322.4,45.8 L318.82,44.49 L315.24,43.23 L311.65,41.96 L308.07,40.74 L304.49,39.63 L300.91,38.7 L297.32,37.96 L293.74,37.28 L290.16,36.66 L286.58,36.09 L282.99,35.57 L279.41,35.09 L275.83,34.65 L272.25,34.24 L268.67,33.86 L265.08,33.51 L261.5,33.17 L257.92,32.86 L254.34,32.56 L250.75,32.29 L247.17,32.04 L243.59,31.81 L240.01,31.6 L236.43,31.41 L232.84,31.22 L229.26,31.04 L225.68,30.87 L222.1,30.7 L218.51,30.54 L214.93,30.39 L211.35,30.25 L207.77,30.12 L204.18,29.99 L200.6,29.88 L197.02,29.78 L193.44,29.68 L189.86,29.6 L186.27,29.52 L182.69,29.45 L179.11,29.38 L175.53,29.32 L171.94,29.26 L168.36,29.2 L164.78,29.14 L161.2,29.09 L157.62,29.04 L154.03,28.99 L150.45,28.95 L146.87,28.9 L143.29,28.86 L139.7,28.82 L136.12,28.77 L132.54,28.73 L128.96,28.69 L125.37,28.64 L121.79,28.6 L118.21,28.56 L114.63,28.52 L111.05,28.48 L107.46,28.44 L103.88,28.4 L100.3,28.36 L96.72,28.32 L93.13,28.28 L89.55,28.24 L85.97,28.2 L82.39,28.17 L78.81,28.13 L75.22,28.1 L71.64,28.06 L68.06,28.03 L64.48,28 L60.89,27.97 L57.31,27.94 L53.73,27.91 L50.15,27.88 L46.56,27.85 L42.98,27.83 L39.4,27.8Z" fill="#5f9ea0" fill-opacity="0.85" stroke="#5f9ea0" stroke-width="0.4"/><path d="M39.4,27.5 L42.98,27.5 L46.56,27.5 L50.15,27.5 L53.73,27.5 L57.31,27.5 L60.89,27.5 L64.48,27.51 L68.06,27.51 L71.64,27.51 L75.22,27.51 L78.81,27.52 L82.39,27.52 L85.97,27.52 L89.55,27.52 L93.13,27.53 L96.72,27.53 L100.3,27.54 L103.88,27.54 L107.46,27.54 L111.05,27.55 L114.63,27.55 L118.21,27.56 L121.79,27.56 L125.37,27.57 L128.96,27.58 L132.54,27.58 L136.12,27.59 L139.7,27.59 L143.29,27.6 L146.87,27.61 L150.45,27.61 L154.03,27.62 L157.62,27.63 L161.2,27.63 L164.78,27.64 L168.36,27.65 L171.94,27.66 L175.53,27.67 L179.11,27.67 L182.69,27.68 L186.27,27.69 L189.86,27.7 L193.44,27.71 L197.02,27.72 L200.6,27.73 L204.18,27.75 L207.77,27.77 L211.35,27.78 L214.93,27.8 L218.51,27.83 L222.1,27.85 L225.68,27.88 L229.26,27.9 L232.84,27.93 L236.43,27.97 L240.01,28 L243.59,28.04 L247.17,28.09 L250.75,28.15 L254.34,28.22 L257.92,28.3 L261.5,28.38 L265.08,28.47 L268.67,28.56 L272.25,28.66 L275.83,28.78 L279.41,28.9 L282.99,29.05 L286.58,29.2 L290.16,29.37 L293.74,29.55 L297.32,29.75 L300.91,29.96 L304.49,30.2 L308.07,30.49 L311.65,30.8 L315.24,31.15 L318.82,31.52 L322.4,31.9" stroke="#b0c4de" stroke-width="1.5" fill="none"/><path d="M39.4,27.6 L42.98,27.63 L46.56,27.69 L50.15,27.76 L53.73,27.85 L57.31,27.96 L60.89,28.08 L64.48,28.22 L68.06,28.37 L71.64,28.54 L75.22,28.71 L78.81,28.89 L82.39,29.08 L85.97,29.28 L89.55,29.48 L93.13,29.69 L96.72,29.9 L100.3,30.12 L103.88,30.36 L107.46,30.65 L111.05,30.97 L114.63,31.32 L118.21,31.68 L121.79,32.05 L125.37,32.43 L128.96,32.8 L132.54,33.15 L136.12,33.51 L139.7,33.87 L143.29,34.24 L146.87,34.64 L150.45,35.05 L154.03,35.49 L157.62,35.93 L161.2,36.38 L164.78,36.84 L168.36,37.32 L171.94,37.81 L175.53,38.31 L179.11,38.84 L182.69,39.38 L186.27,39.94 L189.86,40.52 L193.44,41.13 L197.02,41.76 L200.6,42.41 L204.18,43.09 L207.77,43.81 L211.35,44.57 L214.93,45.38 L218.51,46.24 L222.1,47.17 L225.68,48.18 L229.26,49.26 L232.84,50.49 L236.43,51.92 L240.01,53.53 L243.59,55.27 L247.17,57.11 L250.75,59.01 L254.34,61.11 L257.92,63.38 L261.5,65.63 L265.08,67.87 L268.67,70.3 L272.25,73.1 L275.83,76.24 L279.41,79.68 L282.99,83.45 L286.58,87.49 L290.16,91.7 L293.74,96.06 L297.32,101.62" stroke="#5f9ea0" stroke-width="1.0" fill="none" stroke-dasharray="3.2,1.2,1,1.2,1,1.2,1,1.2"/><path d="M315.24,135.25 L318.82,139.45 L322.4,142.5" stroke="#5f9ea0" stroke-width="1.0" fill="none" stroke-dasharray="3.2,1.2,1,1.2,1,1.2,1,1.2"/></g>
<rect x="302.5" y="24.5" width="16.3" height="24.5" fill="none" stroke="#555" stroke-width="0.8"/>
<text x="301.9" y="23.9" font-size="8.9" class="nb" textLength="17.6" lengthAdjust="spacingAndGlyphs">Inset</text>
<text transform="translate(310.4,120.4) rotate(55.5)" font-size="8.2" class="tc" text-anchor="middle" dy="3" textLength="37" lengthAdjust="spacingAndGlyphs">-50 km s<tspan font-size="5.6" dy="-3.4">-1</tspan></text>
<rect x="62.1" y="137.1" width="57.7" height="72.5" fill="#fff" stroke="#777" stroke-width="0.9"/>
<path d="M62.1,152.4 L62.83,152.43 L63.56,152.45 L64.29,152.48 L65.02,152.51 L65.75,152.54 L66.48,152.57 L67.21,152.6 L67.94,152.63 L68.67,152.66 L69.4,152.69 L70.13,152.72 L70.86,152.76 L71.59,152.79 L72.33,152.83 L73.06,152.86 L73.79,152.9 L74.52,152.93 L75.25,152.97 L75.98,153.01 L76.71,153.04 L77.44,153.08 L78.17,153.12 L78.9,153.16 L79.63,153.2 L80.36,153.24 L81.09,153.28 L81.82,153.32 L82.55,153.36 L83.28,153.4 L84.01,153.44 L84.74,153.48 L85.47,153.53 L86.2,153.57 L86.93,153.61 L87.66,153.66 L88.39,153.7 L89.12,153.75 L89.85,153.79 L90.58,153.84 L91.32,153.88 L92.05,153.93 L92.78,153.98 L93.51,154.03 L94.24,154.07 L94.97,154.12 L95.7,154.17 L96.43,154.23 L97.16,154.28 L97.89,154.33 L98.62,154.38 L99.35,154.44 L100.08,154.49 L100.81,154.55 L101.54,154.6 L102.27,154.66 L103,154.72 L103.73,154.78 L104.46,154.84 L105.19,154.9 L105.92,154.96 L106.65,155.02 L107.38,155.08 L108.11,155.14 L108.84,155.2 L109.57,155.26 L110.31,155.33 L111.04,155.39 L111.77,155.46 L112.5,155.52 L113.23,155.59 L113.96,155.65 L114.69,155.72 L115.42,155.79 L116.15,155.85 L116.88,155.92 L117.61,155.99 L118.34,156.06 L119.07,156.13 L119.8,156.2 L119.8,159.1 L119.07,159.02 L118.34,158.95 L117.61,158.87 L116.88,158.79 L116.15,158.72 L115.42,158.64 L114.69,158.57 L113.96,158.5 L113.23,158.42 L112.5,158.35 L111.77,158.28 L111.04,158.21 L110.31,158.14 L109.57,158.06 L108.84,157.99 L108.11,157.93 L107.38,157.86 L106.65,157.79 L105.92,157.72 L105.19,157.65 L104.46,157.59 L103.73,157.52 L103,157.46 L102.27,157.39 L101.54,157.33 L100.81,157.26 L100.08,157.2 L99.35,157.14 L98.62,157.08 L97.89,157.01 L97.16,156.95 L96.43,156.89 L95.7,156.84 L94.97,156.78 L94.24,156.72 L93.51,156.66 L92.78,156.61 L92.05,156.55 L91.32,156.5 L90.58,156.44 L89.85,156.39 L89.12,156.34 L88.39,156.28 L87.66,156.23 L86.93,156.18 L86.2,156.13 L85.47,156.08 L84.74,156.03 L84.01,155.98 L83.28,155.93 L82.55,155.88 L81.82,155.83 L81.09,155.78 L80.36,155.73 L79.63,155.69 L78.9,155.64 L78.17,155.59 L77.44,155.55 L76.71,155.5 L75.98,155.45 L75.25,155.41 L74.52,155.37 L73.79,155.32 L73.06,155.28 L72.33,155.24 L71.59,155.19 L70.86,155.15 L70.13,155.11 L69.4,155.07 L68.67,155.03 L67.94,154.99 L67.21,154.95 L66.48,154.92 L65.75,154.88 L65.02,154.84 L64.29,154.8 L63.56,154.77 L62.83,154.73 L62.1,154.7Z" fill="#b0c4de" fill-opacity="0.9"/>
<path d="M62.1,174.4 L62.83,174.52 L63.56,174.65 L64.29,174.78 L65.02,174.91 L65.75,175.03 L66.48,175.16 L67.21,175.29 L67.94,175.43 L68.67,175.56 L69.4,175.69 L70.13,175.83 L70.86,175.96 L71.59,176.1 L72.33,176.23 L73.06,176.37 L73.79,176.51 L74.52,176.65 L75.25,176.79 L75.98,176.93 L76.71,177.07 L77.44,177.22 L78.17,177.36 L78.9,177.5 L79.63,177.65 L80.36,177.8 L81.09,177.94 L81.82,178.09 L82.55,178.24 L83.28,178.39 L84.01,178.54 L84.74,178.69 L85.47,178.84 L86.2,178.99 L86.93,179.15 L87.66,179.3 L88.39,179.46 L89.12,179.61 L89.85,179.77 L90.58,179.93 L91.32,180.08 L92.05,180.24 L92.78,180.4 L93.51,180.56 L94.24,180.73 L94.97,180.89 L95.7,181.05 L96.43,181.22 L97.16,181.39 L97.89,181.55 L98.62,181.72 L99.35,181.89 L100.08,182.06 L100.81,182.23 L101.54,182.4 L102.27,182.58 L103,182.75 L103.73,182.93 L104.46,183.1 L105.19,183.28 L105.92,183.46 L106.65,183.63 L107.38,183.81 L108.11,183.99 L108.84,184.18 L109.57,184.36 L110.31,184.54 L111.04,184.72 L111.77,184.91 L112.5,185.1 L113.23,185.28 L113.96,185.47 L114.69,185.66 L115.42,185.85 L116.15,186.04 L116.88,186.23 L117.61,186.42 L118.34,186.61 L119.07,186.81 L119.8,187 L119.8,197 L119.07,196.78 L118.34,196.56 L117.61,196.34 L116.88,196.12 L116.15,195.9 L115.42,195.68 L114.69,195.47 L113.96,195.25 L113.23,195.04 L112.5,194.82 L111.77,194.61 L111.04,194.39 L110.31,194.18 L109.57,193.97 L108.84,193.76 L108.11,193.55 L107.38,193.34 L106.65,193.13 L105.92,192.92 L105.19,192.72 L104.46,192.51 L103.73,192.31 L103,192.1 L102.27,191.9 L101.54,191.7 L100.81,191.49 L100.08,191.29 L99.35,191.09 L98.62,190.89 L97.89,190.69 L97.16,190.5 L96.43,190.3 L95.7,190.1 L94.97,189.91 L94.24,189.71 L93.51,189.52 L92.78,189.33 L92.05,189.13 L91.32,188.94 L90.58,188.75 L89.85,188.56 L89.12,188.37 L88.39,188.19 L87.66,188 L86.93,187.81 L86.2,187.63 L85.47,187.44 L84.74,187.26 L84.01,187.07 L83.28,186.89 L82.55,186.71 L81.82,186.52 L81.09,186.34 L80.36,186.16 L79.63,185.98 L78.9,185.8 L78.17,185.63 L77.44,185.45 L76.71,185.27 L75.98,185.1 L75.25,184.92 L74.52,184.75 L73.79,184.57 L73.06,184.4 L72.33,184.23 L71.59,184.06 L70.86,183.89 L70.13,183.72 L69.4,183.55 L68.67,183.38 L67.94,183.21 L67.21,183.04 L66.48,182.88 L65.75,182.71 L65.02,182.55 L64.29,182.39 L63.56,182.22 L62.83,182.06 L62.1,181.9Z" fill="#5f9ea0" fill-opacity="0.75"/>
<text transform="translate(64,173.6) rotate(7)" class="tc" font-style="italic" font-size="7.6">420 km s<tspan font-size="4.8" dy="-2.8">-1</tspan></text>
<text transform="translate(85.4,197.4) rotate(13)" class="tc" font-style="italic" font-size="7.6">340 km s<tspan font-size="4.8" dy="-2.8">-1</tspan></text>
<text x="122.5" y="155.9" font-size="7.2" class="lb nb" textLength="41.5" lengthAdjust="spacingAndGlyphs">scatter-free</text>
<text x="122.5" y="162.3" font-size="7.2" class="lb nb" textLength="51.5" lengthAdjust="spacingAndGlyphs">(fundamental)</text>
<text x="122.5" y="189.6" font-size="7.2" class="tc nb" textLength="41.5" lengthAdjust="spacingAndGlyphs">scatter-free</text>
<text x="122.5" y="196.3" font-size="7.2" class="tc nb" textLength="40" lengthAdjust="spacingAndGlyphs">(harmonic)</text>
<path d="M63,231.4H91.5" stroke="#e32b2b" stroke-width="1.5"/>
<path d="M63,244.4H91.5" stroke="#d3d3d3" stroke-width="1"/>
<text x="98.5" y="234.7" font-size="9.4" class="nb" textLength="80.3" lengthAdjust="spacingAndGlyphs">Observed Average</text>
<text x="98.5" y="247.8" font-size="9.4" class="nb" textLength="37.9" lengthAdjust="spacingAndGlyphs">Data Fits</text>
<text x="47.8" y="15.2" font-size="9.2" class="nb" textLength="11.8" lengthAdjust="spacingAndGlyphs">(a)</text>
<path d="M39.4,270v-4.7M39.4,0.6v4.2M43.44,270v-2.7M43.44,0.6v2.2M47.49,270v-2.7M47.49,0.6v2.2M51.53,270v-2.7M51.53,0.6v2.2M55.57,270v-2.7M55.57,0.6v2.2M59.61,270v-2.7M59.61,0.6v2.2M63.66,270v-2.7M63.66,0.6v2.2M67.7,270v-2.7M67.7,0.6v2.2M71.74,270v-2.7M71.74,0.6v2.2M75.79,270v-2.7M75.79,0.6v2.2M79.83,270v-4.7M79.83,0.6v4.2M83.87,270v-2.7M83.87,0.6v2.2M87.91,270v-2.7M87.91,0.6v2.2M91.96,270v-2.7M91.96,0.6v2.2M96,270v-2.7M96,0.6v2.2M100.04,270v-2.7M100.04,0.6v2.2M104.09,270v-2.7M104.09,0.6v2.2M108.13,270v-2.7M108.13,0.6v2.2M112.17,270v-2.7M112.17,0.6v2.2M116.21,270v-2.7M116.21,0.6v2.2M120.26,270v-4.7M120.26,0.6v4.2M124.3,270v-2.7M124.3,0.6v2.2M128.34,270v-2.7M128.34,0.6v2.2M132.39,270v-2.7M132.39,0.6v2.2M136.43,270v-2.7M136.43,0.6v2.2M140.47,270v-2.7M140.47,0.6v2.2M144.51,270v-2.7M144.51,0.6v2.2M148.56,270v-2.7M148.56,0.6v2.2M152.6,270v-2.7M152.6,0.6v2.2M156.64,270v-2.7M156.64,0.6v2.2M160.69,270v-4.7M160.69,0.6v4.2M164.73,270v-2.7M164.73,0.6v2.2M168.77,270v-2.7M168.77,0.6v2.2M172.81,270v-2.7M172.81,0.6v2.2M176.86,270v-2.7M176.86,0.6v2.2M180.9,270v-2.7M180.9,0.6v2.2M184.94,270v-2.7M184.94,0.6v2.2M188.99,270v-2.7M188.99,0.6v2.2M193.03,270v-2.7M193.03,0.6v2.2M197.07,270v-2.7M197.07,0.6v2.2M201.11,270v-4.7M201.11,0.6v4.2M205.16,270v-2.7M205.16,0.6v2.2M209.2,270v-2.7M209.2,0.6v2.2M213.24,270v-2.7M213.24,0.6v2.2M217.29,270v-2.7M217.29,0.6v2.2M221.33,270v-2.7M221.33,0.6v2.2M225.37,270v-2.7M225.37,0.6v2.2M229.41,270v-2.7M229.41,0.6v2.2M233.46,270v-2.7M233.46,0.6v2.2M237.5,270v-2.7M237.5,0.6v2.2M241.54,270v-4.7M241.54,0.6v4.2M245.59,270v-2.7M245.59,0.6v2.2M249.63,270v-2.7M249.63,0.6v2.2M253.67,270v-2.7M253.67,0.6v2.2M257.71,270v-2.7M257.71,0.6v2.2M261.76,270v-2.7M261.76,0.6v2.2M265.8,270v-2.7M265.8,0.6v2.2M269.84,270v-2.7M269.84,0.6v2.2M273.89,270v-2.7M273.89,0.6v2.2M277.93,270v-2.7M277.93,0.6v2.2M281.97,270v-4.7M281.97,0.6v4.2M286.01,270v-2.7M286.01,0.6v2.2M290.06,270v-2.7M290.06,0.6v2.2M294.1,270v-2.7M294.1,0.6v2.2M298.14,270v-2.7M298.14,0.6v2.2M302.19,270v-2.7M302.19,0.6v2.2M306.23,270v-2.7M306.23,0.6v2.2M310.27,270v-2.7M310.27,0.6v2.2M314.31,270v-2.7M314.31,0.6v2.2M318.36,270v-2.7M318.36,0.6v2.2M322.4,270v-4.7M322.4,0.6v4.2M39.4,269.3h2.2M322.4,269.3h-2.2M39.4,263.93h2.2M322.4,263.93h-2.2M39.4,258.55h2.2M322.4,258.55h-2.2M39.4,253.18h2.2M322.4,253.18h-2.2M39.4,247.8h2.2M322.4,247.8h-2.2M39.4,242.43h4.2M322.4,242.43h-4.2M39.4,237.06h2.2M322.4,237.06h-2.2M39.4,231.68h2.2M322.4,231.68h-2.2M39.4,226.31h2.2M322.4,226.31h-2.2M39.4,220.93h2.2M322.4,220.93h-2.2M39.4,215.56h2.2M322.4,215.56h-2.2M39.4,210.19h2.2M322.4,210.19h-2.2M39.4,204.81h2.2M322.4,204.81h-2.2M39.4,199.44h2.2M322.4,199.44h-2.2M39.4,194.06h2.2M322.4,194.06h-2.2M39.4,188.69h4.2M322.4,188.69h-4.2M39.4,183.32h2.2M322.4,183.32h-2.2M39.4,177.94h2.2M322.4,177.94h-2.2M39.4,172.57h2.2M322.4,172.57h-2.2M39.4,167.19h2.2M322.4,167.19h-2.2M39.4,161.82h2.2M322.4,161.82h-2.2M39.4,156.45h2.2M322.4,156.45h-2.2M39.4,151.07h2.2M322.4,151.07h-2.2M39.4,145.7h2.2M322.4,145.7h-2.2M39.4,140.32h2.2M322.4,140.32h-2.2M39.4,134.95h4.2M322.4,134.95h-4.2M39.4,129.58h2.2M322.4,129.58h-2.2M39.4,124.2h2.2M322.4,124.2h-2.2M39.4,118.83h2.2M322.4,118.83h-2.2M39.4,113.45h2.2M322.4,113.45h-2.2M39.4,108.08h2.2M322.4,108.08h-2.2M39.4,102.71h2.2M322.4,102.71h-2.2M39.4,97.33h2.2M322.4,97.33h-2.2M39.4,91.96h2.2M322.4,91.96h-2.2M39.4,86.58h2.2M322.4,86.58h-2.2M39.4,81.21h4.2M322.4,81.21h-4.2M39.4,75.84h2.2M322.4,75.84h-2.2M39.4,70.46h2.2M322.4,70.46h-2.2M39.4,65.09h2.2M322.4,65.09h-2.2M39.4,59.71h2.2M322.4,59.71h-2.2M39.4,54.34h2.2M322.4,54.34h-2.2M39.4,48.97h2.2M322.4,48.97h-2.2M39.4,43.59h2.2M322.4,43.59h-2.2M39.4,38.22h2.2M322.4,38.22h-2.2M39.4,32.84h2.2M322.4,32.84h-2.2M39.4,27.47h4.2M322.4,27.47h-4.2M39.4,22.1h2.2M322.4,22.1h-2.2M39.4,16.72h2.2M322.4,16.72h-2.2M39.4,11.35h2.2M322.4,11.35h-2.2M39.4,5.97h2.2M322.4,5.97h-2.2M39.4,0.6h2.2M322.4,0.6h-2.2" stroke="#4a4a4a" stroke-width="0.75" fill="none"/>
<rect x="39.5" y="0.5" width="283" height="269.5" fill="none" stroke="#888" stroke-width="1"/>
<text x="39.4" y="282.4" font-size="12.8" text-anchor="middle">0.9</text>
<text x="79.83" y="282.4" font-size="12.8" text-anchor="middle">0.8</text>
<text x="120.26" y="282.4" font-size="12.8" text-anchor="middle">0.7</text>
<text x="160.69" y="282.4" font-size="12.8" text-anchor="middle">0.6</text>
<text x="201.11" y="282.4" font-size="12.8" text-anchor="middle">0.5</text>
<text x="241.54" y="282.4" font-size="12.8" text-anchor="middle">0.4</text>
<text x="281.97" y="282.4" font-size="12.8" text-anchor="middle">0.3</text>
<text x="322.4" y="282.4" font-size="12.8" text-anchor="middle">0.2</text>
<text x="33.3" y="32.47" font-size="12.8" text-anchor="end">0</text>
<text x="33.3" y="86.21" font-size="12.8" text-anchor="end">-10</text>
<text x="33.3" y="139.95" font-size="12.8" text-anchor="end">-20</text>
<text x="33.3" y="193.69" font-size="12.8" text-anchor="end">-30</text>
<text x="33.3" y="247.43" font-size="12.8" text-anchor="end">-40</text>
<text x="181.1" y="294" font-size="12" text-anchor="middle" textLength="157.5" lengthAdjust="spacingAndGlyphs">Observed Frequency [MHz]</text>
<text transform="translate(9.4,136.3) rotate(-90)" font-size="12" text-anchor="middle" textLength="74" lengthAdjust="spacingAndGlyphs">Δ<tspan font-style="italic">θ</tspan> [degrees]</text>
<g fill="none" stroke="#d3d3d3" stroke-width="0.8" clip-path="url(#clipb)"><path d="M393.5,27.9 L395.88,28.12 L398.26,28.35 L400.63,28.58 L403.01,28.81 L405.39,29.04 L407.77,29.28 L410.15,29.51 L412.53,29.75 L414.9,30 L417.28,30.24 L419.66,30.49 L422.04,30.74 L424.42,30.99 L426.79,31.24 L429.17,31.5 L431.55,31.76 L433.93,32.02 L436.31,32.29 L438.68,32.55 L441.06,32.82 L443.44,33.1 L445.82,33.37 L448.2,33.65 L450.58,33.93 L452.95,34.21 L455.33,34.5 L457.71,34.78 L460.09,35.07 L462.47,35.37 L464.84,35.66 L467.22,35.96 L469.6,36.26 L471.98,36.57 L474.36,36.87 L476.74,37.18 L479.11,37.49 L481.49,37.8 L483.87,38.12 L486.25,38.44 L488.63,38.76 L491,39.08 L493.38,39.41 L495.76,39.73 L498.14,40.06 L500.52,40.39 L502.89,40.72 L505.27,41.06 L507.65,41.39 L510.03,41.73 L512.41,42.07 L514.79,42.41 L517.16,42.75 L519.54,43.09 L521.92,43.44 L524.3,43.78 L526.68,44.12 L529.05,44.46 L531.43,44.8 L533.81,45.15 L536.19,45.48 L538.57,45.82 L540.95,46.16 L543.32,46.49 L545.7,46.82 L548.08,47.15 L550.46,47.47 L552.84,47.79 L555.21,48.1 L557.59,48.4 L559.97,48.7 L562.35,48.99 L564.73,49.27 L567.11,49.54 L569.48,49.8 L571.86,50.04 L574.24,50.27 L576.62,50.49 L579,50.69 L581.37,50.86 L583.75,51.33 L586.13,52.06 L588.51,52.8 L590.89,53.55 L593.26,54.33 L595.64,55.12 L598.02,55.92 L600.4,56.75 L602.78,57.59 L605.16,58.46 L607.53,59.34 L609.91,60.25 L612.29,61.18 L614.67,62.13 L617.05,63.11 L619.42,64.12 L621.8,65.15 L624.18,66.21 L626.56,67.3 L628.94,68.42 L631.32,69.58 L633.69,70.78 L636.07,72.01 L638.45,73.29 L640.83,74.61 L643.21,75.98 L645.58,77.4 L647.96,78.88 L650.34,80.42 L652.72,82.02 L655.1,83.7 L657.47,85.47 L659.85,87.32 L662.23,89.28 L664.61,91.34 L666.99,93.54 L669.37,95.88 L671.74,98.38 L674.12,101.08 L676.5,103.99"/><path d="M393.5,28.31 L395.88,28.55 L398.26,28.78 L400.63,29.02 L403.01,29.26 L405.39,29.5 L407.77,29.75 L410.15,29.99 L412.53,30.25 L414.9,30.5 L417.28,30.75 L419.66,31.01 L422.04,31.27 L424.42,31.54 L426.79,31.8 L429.17,32.07 L431.55,32.35 L433.93,32.62 L436.31,32.9 L438.68,33.18 L441.06,33.46 L443.44,33.75 L445.82,34.04 L448.2,34.33 L450.58,34.63 L452.95,34.93 L455.33,35.23 L457.71,35.53 L460.09,35.84 L462.47,36.15 L464.84,36.47 L467.22,36.79 L469.6,37.11 L471.98,37.43 L474.36,37.76 L476.74,38.09 L479.11,38.42 L481.49,38.76 L483.87,39.1 L486.25,39.44 L488.63,39.79 L491,40.14 L493.38,40.49 L495.76,40.85 L498.14,41.21 L500.52,41.57 L502.89,41.93 L505.27,42.3 L507.65,42.67 L510.03,43.04 L512.41,43.42 L514.79,43.8 L517.16,44.18 L519.54,44.56 L521.92,44.95 L524.3,45.33 L526.68,45.72 L529.05,46.11 L531.43,46.5 L533.81,46.9 L536.19,47.29 L538.57,47.69 L540.95,48.08 L543.32,48.47 L545.7,48.87 L548.08,49.26 L550.46,49.65 L552.84,50.05 L555.21,50.43 L557.59,50.82 L559.97,51.2 L562.35,51.58 L564.73,51.95 L567.11,52.31 L569.48,52.67 L571.86,53.02 L574.24,53.36 L576.62,53.7 L579,54.02 L581.37,54.32 L583.75,54.89 L586.13,55.69 L588.51,56.5 L590.89,57.34 L593.26,58.19 L595.64,59.07 L598.02,59.96 L600.4,60.88 L602.78,61.82 L605.16,62.78 L607.53,63.77 L609.91,64.78 L612.29,65.82 L614.67,66.89 L617.05,67.99 L619.42,69.12 L621.8,70.28 L624.18,71.48 L626.56,72.72 L628.94,73.99 L631.32,75.3 L633.69,76.66 L636.07,78.06 L638.45,79.52 L640.83,81.02 L643.21,82.59 L645.58,84.21 L647.96,85.91 L650.34,87.67 L652.72,89.51 L655.1,91.44 L657.47,93.45 L659.85,95.58 L662.23,97.81 L664.61,100.17 L666.99,102.68 L669.37,105.34 L671.74,108.17 L674.12,111.21 L676.5,114.48"/><path d="M393.5,27.9 L395.88,28.13 L398.26,28.37 L400.63,28.61 L403.01,28.86 L405.39,29.1 L407.77,29.35 L410.15,29.61 L412.53,29.86 L414.9,30.12 L417.28,30.38 L419.66,30.64 L422.04,30.91 L424.42,31.18 L426.79,31.45 L429.17,31.72 L431.55,32 L433.93,32.28 L436.31,32.57 L438.68,32.85 L441.06,33.14 L443.44,33.44 L445.82,33.73 L448.2,34.03 L450.58,34.34 L452.95,34.64 L455.33,34.95 L457.71,35.27 L460.09,35.59 L462.47,35.91 L464.84,36.23 L467.22,36.56 L469.6,36.89 L471.98,37.22 L474.36,37.56 L476.74,37.9 L479.11,38.25 L481.49,38.6 L483.87,38.95 L486.25,39.31 L488.63,39.67 L491,40.03 L493.38,40.4 L495.76,40.77 L498.14,41.14 L500.52,41.52 L502.89,41.9 L505.27,42.29 L507.65,42.68 L510.03,43.07 L512.41,43.47 L514.79,43.87 L517.16,44.27 L519.54,44.68 L521.92,45.09 L524.3,45.5 L526.68,45.92 L529.05,46.34 L531.43,46.76 L533.81,47.19 L536.19,47.61 L538.57,48.04 L540.95,48.47 L543.32,48.91 L545.7,49.34 L548.08,49.78 L550.46,50.21 L552.84,50.65 L555.21,51.09 L557.59,51.52 L559.97,51.96 L562.35,52.39 L564.73,52.83 L567.11,53.42 L569.48,54.18 L571.86,54.95 L574.24,55.74 L576.62,56.54 L579,57.37 L581.37,58.21 L583.75,59.07 L586.13,59.96 L588.51,60.86 L590.89,61.79 L593.26,62.74 L595.64,63.71 L598.02,64.71 L600.4,65.73 L602.78,66.78 L605.16,67.86 L607.53,68.97 L609.91,70.11 L612.29,71.28 L614.67,72.49 L617.05,73.73 L619.42,75.01 L621.8,76.32 L624.18,77.68 L626.56,79.08 L628.94,80.53 L631.32,82.03 L633.69,83.58 L636.07,85.18 L638.45,86.85 L640.83,88.57 L643.21,90.37 L645.58,92.23 L647.96,94.17 L650.34,96.2 L652.72,98.32 L655.1,100.53 L657.47,102.85 L659.85,105.29 L662.23,107.86 L664.61,110.56 L666.99,113.42 L669.37,116.46 L671.74,119.69 L674.12,123.14 L676.5,126.83"/><path d="M393.5,26.65 L395.88,26.89 L398.26,27.14 L400.63,27.4 L403.01,27.65 L405.39,27.91 L407.77,28.17 L410.15,28.44 L412.53,28.71 L414.9,28.98 L417.28,29.25 L419.66,29.53 L422.04,29.81 L424.42,30.1 L426.79,30.38 L429.17,30.67 L431.55,30.97 L433.93,31.27 L436.31,31.57 L438.68,31.88 L441.06,32.19 L443.44,32.5 L445.82,32.82 L448.2,33.14 L450.58,33.47 L452.95,33.8 L455.33,34.13 L457.71,34.47 L460.09,34.81 L462.47,35.16 L464.84,35.51 L467.22,35.87 L469.6,36.23 L471.98,36.6 L474.36,36.97 L476.74,37.34 L479.11,37.72 L481.49,38.11 L483.87,38.5 L486.25,38.9 L488.63,39.3 L491,39.7 L493.38,40.12 L495.76,40.53 L498.14,40.96 L500.52,41.39 L502.89,41.82 L505.27,42.26 L507.65,42.71 L510.03,43.16 L512.41,43.62 L514.79,44.09 L517.16,44.56 L519.54,45.04 L521.92,45.52 L524.3,46.02 L526.68,46.51 L529.05,47.02 L531.43,47.53 L533.81,48.05 L536.19,48.58 L538.57,49.11 L540.95,49.65 L543.32,50.2 L545.7,50.75 L548.08,51.32 L550.46,51.89 L552.84,52.46 L555.21,53.05 L557.59,53.64 L559.97,54.24 L562.35,54.84 L564.73,55.46 L567.11,56.17 L569.48,56.97 L571.86,57.8 L574.24,58.64 L576.62,59.5 L579,60.38 L581.37,61.29 L583.75,62.21 L586.13,63.16 L588.51,64.13 L590.89,65.13 L593.26,66.15 L595.64,67.2 L598.02,68.27 L600.4,69.38 L602.78,70.51 L605.16,71.68 L607.53,72.87 L609.91,74.11 L612.29,75.38 L614.67,76.68 L617.05,78.03 L619.42,79.42 L621.8,80.85 L624.18,82.33 L626.56,83.86 L628.94,85.44 L631.32,87.08 L633.69,88.77 L636.07,90.53 L638.45,92.35 L640.83,94.24 L643.21,96.2 L645.58,98.25 L647.96,100.38 L650.34,102.6 L652.72,104.92 L655.1,107.35 L657.47,109.9 L659.85,112.57 L662.23,115.39 L664.61,118.35 L666.99,121.49 L669.37,124.8 L671.74,128.33 L674.12,132.08 L676.5,136.09"/><path d="M393.5,27.81 L395.88,28.07 L398.26,28.33 L400.63,28.59 L403.01,28.85 L405.39,29.12 L407.77,29.39 L410.15,29.67 L412.53,29.94 L414.9,30.23 L417.28,30.51 L419.66,30.8 L422.04,31.09 L424.42,31.39 L426.79,31.68 L429.17,31.99 L431.55,32.29 L433.93,32.6 L436.31,32.92 L438.68,33.24 L441.06,33.56 L443.44,33.89 L445.82,34.22 L448.2,34.55 L450.58,34.89 L452.95,35.24 L455.33,35.59 L457.71,35.94 L460.09,36.3 L462.47,36.66 L464.84,37.03 L467.22,37.4 L469.6,37.78 L471.98,38.17 L474.36,38.55 L476.74,38.95 L479.11,39.35 L481.49,39.75 L483.87,40.16 L486.25,40.58 L488.63,41 L491,41.43 L493.38,41.87 L495.76,42.31 L498.14,42.75 L500.52,43.21 L502.89,43.67 L505.27,44.14 L507.65,44.61 L510.03,45.09 L512.41,45.58 L514.79,46.07 L517.16,46.57 L519.54,47.08 L521.92,47.6 L524.3,48.13 L526.68,48.66 L529.05,49.2 L531.43,49.75 L533.81,50.3 L536.19,50.87 L538.57,51.44 L540.95,52.02 L543.32,52.61 L545.7,53.21 L548.08,53.82 L550.46,54.44 L552.84,55.06 L555.21,55.7 L557.59,56.34 L559.97,57 L562.35,57.66 L564.73,58.33 L567.11,59.1 L569.48,59.96 L571.86,60.84 L574.24,61.74 L576.62,62.66 L579,63.6 L581.37,64.57 L583.75,65.56 L586.13,66.58 L588.51,67.62 L590.89,68.69 L593.26,69.78 L595.64,70.91 L598.02,72.07 L600.4,73.26 L602.78,74.48 L605.16,75.74 L607.53,77.04 L609.91,78.37 L612.29,79.75 L614.67,81.16 L617.05,82.62 L619.42,84.13 L621.8,85.69 L624.18,87.29 L626.56,88.96 L628.94,90.68 L631.32,92.46 L633.69,94.31 L636.07,96.22 L638.45,98.21 L640.83,100.28 L643.21,102.42 L645.58,104.66 L647.96,106.99 L650.34,109.43 L652.72,111.97 L655.1,114.63 L657.47,117.42 L659.85,120.34 L662.23,123.42 L664.61,126.66 L666.99,130.08 L669.37,133.7 L671.74,137.54 L674.12,141.62 L676.5,145.96"/><path d="M393.5,29.15 L395.88,29.41 L398.26,29.67 L400.63,29.94 L403.01,30.21 L405.39,30.49 L407.77,30.77 L410.15,31.05 L412.53,31.34 L414.9,31.63 L417.28,31.92 L419.66,32.22 L422.04,32.52 L424.42,32.82 L426.79,33.13 L429.17,33.44 L431.55,33.76 L433.93,34.08 L436.31,34.4 L438.68,34.73 L441.06,35.06 L443.44,35.4 L445.82,35.74 L448.2,36.09 L450.58,36.44 L452.95,36.79 L455.33,37.15 L457.71,37.52 L460.09,37.89 L462.47,38.26 L464.84,38.64 L467.22,39.03 L469.6,39.42 L471.98,39.82 L474.36,40.22 L476.74,40.63 L479.11,41.04 L481.49,41.46 L483.87,41.89 L486.25,42.32 L488.63,42.76 L491,43.2 L493.38,43.65 L495.76,44.11 L498.14,44.58 L500.52,45.05 L502.89,45.53 L505.27,46.01 L507.65,46.5 L510.03,47 L512.41,47.51 L514.79,48.03 L517.16,48.55 L519.54,49.08 L521.92,49.62 L524.3,50.17 L526.68,50.72 L529.05,51.29 L531.43,51.86 L533.81,52.44 L536.19,53.03 L538.57,53.63 L540.95,54.24 L543.32,54.86 L545.7,55.48 L548.08,56.12 L550.46,56.77 L552.84,57.42 L555.21,58.09 L557.59,58.77 L559.97,59.45 L562.35,60.15 L564.73,60.86 L567.11,61.66 L569.48,62.57 L571.86,63.5 L574.24,64.45 L576.62,65.42 L579,66.42 L581.37,67.44 L583.75,68.49 L586.13,69.56 L588.51,70.67 L590.89,71.8 L593.26,72.97 L595.64,74.16 L598.02,75.39 L600.4,76.66 L602.78,77.96 L605.16,79.3 L607.53,80.68 L609.91,82.1 L612.29,83.57 L614.67,85.08 L617.05,86.64 L619.42,88.25 L621.8,89.91 L624.18,91.64 L626.56,93.42 L628.94,95.26 L631.32,97.17 L633.69,99.15 L636.07,101.21 L638.45,103.34 L640.83,105.56 L643.21,107.87 L645.58,110.27"/><path d="M393.5,29.98 L395.88,30.25 L398.26,30.52 L400.63,30.8 L403.01,31.08 L405.39,31.36 L407.77,31.65 L410.15,31.94 L412.53,32.24 L414.9,32.53 L417.28,32.84 L419.66,33.14 L422.04,33.45 L424.42,33.77 L426.79,34.08 L429.17,34.41 L431.55,34.73 L433.93,35.06 L436.31,35.4 L438.68,35.74 L441.06,36.08 L443.44,36.43 L445.82,36.79 L448.2,37.15 L450.58,37.51 L452.95,37.88 L455.33,38.25 L457.71,38.63 L460.09,39.02 L462.47,39.41 L464.84,39.8 L467.22,40.2 L469.6,40.61 L471.98,41.02 L474.36,41.44 L476.74,41.87 L479.11,42.3 L481.49,42.74 L483.87,43.18 L486.25,43.64 L488.63,44.09 L491,44.56 L493.38,45.03 L495.76,45.51 L498.14,46 L500.52,46.49 L502.89,47 L505.27,47.51 L507.65,48.03 L510.03,48.55 L512.41,49.09 L514.79,49.63 L517.16,50.18 L519.54,50.75 L521.92,51.32 L524.3,51.9 L526.68,52.48 L529.05,53.08 L531.43,53.69 L533.81,54.31 L536.19,54.94 L538.57,55.58 L540.95,56.23 L543.32,56.89 L545.7,57.56 L548.08,58.25 L550.46,58.94 L552.84,59.65 L555.21,60.37 L557.59,61.1 L559.97,61.84 L562.35,62.6 L564.73,63.37 L567.11,64.23 L569.48,65.18 L571.86,66.16 L574.24,67.16 L576.62,68.18 L579,69.23 L581.37,70.31 L583.75,71.42 L586.13,72.55 L588.51,73.72 L590.89,74.92 L593.26,76.15 L595.64,77.42 L598.02,78.72 L600.4,80.06 L602.78,81.44 L605.16,82.86 L607.53,84.32 L609.91,85.83 L612.29,87.39 L614.67,89 L617.05,90.66 L619.42,92.37 L621.8,94.14 L624.18,95.98 L626.56,97.88 L628.94,99.84 L631.32,101.88 L633.69,103.99 L636.07,106.19 L638.45,108.47 L640.83,110.84 L643.21,113.31 L645.58,115.89 L647.96,118.57 L650.34,121.37 L652.72,124.3 L655.1,127.36 L657.47,130.57 L659.85,133.94 L662.23,137.48 L664.61,141.21 L666.99,145.13 L669.37,149.28 L671.74,153.66 L674.12,158.31 L676.5,163.25"/><path d="M393.5,32.1 L395.88,32.39 L398.26,32.69 L400.63,32.99 L403.01,33.29 L405.39,33.6 L407.77,33.91 L410.15,34.23 L412.53,34.55 L414.9,34.88 L417.28,35.21 L419.66,35.55 L422.04,35.89 L424.42,36.23 L426.79,36.59 L429.17,36.94 L431.55,37.3 L433.93,37.67 L436.31,38.04 L438.68,38.42 L441.06,38.81 L443.44,39.2 L445.82,39.6 L448.2,40 L450.58,40.41 L452.95,40.83 L455.33,41.25 L457.71,41.68 L460.09,42.12 L462.47,42.57 L464.84,43.02 L467.22,43.48 L469.6,43.95 L471.98,44.42 L474.36,44.91 L476.74,45.4 L479.11,45.9 L481.49,46.42 L483.87,46.94 L486.25,47.47 L488.63,48.01 L491,48.56 L493.38,49.12 L495.76,49.69 L498.14,50.27 L500.52,50.86 L502.89,51.47 L505.27,52.08 L507.65,52.71 L510.03,53.35 L512.41,54 L514.79,54.67 L517.16,55.35 L519.54,56.05 L521.92,56.76 L524.3,57.48 L526.68,58.22 L529.05,58.98 L531.43,59.75 L533.81,60.54 L536.19,61.35 L538.57,62.18 L540.95,63.02 L543.32,63.89 L545.7,64.77 L548.08,65.68 L550.46,66.6 L552.84,67.55 L555.21,68.53 L557.59,69.52 L559.97,70.55 L562.35,71.59 L564.73,72.67 L567.11,73.77 L569.48,74.9 L571.86,76.06 L574.24,77.26 L576.62,78.48 L579,79.74 L581.37,81.03 L583.75,82.37 L586.13,83.73 L588.51,85.14 L590.89,86.59 L593.26,88.09 L595.64,89.63 L598.02,91.21 L600.4,92.85 L602.78,94.53 L605.16,96.27 L607.53,98.07 L609.91,99.93 L612.29,101.85 L614.67,103.83 L617.05,105.88 L619.42,108.01 L621.8,110.21 L624.18,112.49 L626.56,114.85 L628.94,117.3 L631.32,119.85 L633.69,122.49 L636.07,125.24 L638.45,128.09 L640.83,131.06 L643.21,134.16 L645.58,137.38 L647.96,140.74 L650.34,144.25 L652.72,147.91 L655.1,151.73 L657.47,155.73 L659.85,159.91 L662.23,164.3 L664.61,168.89 L666.99,173.7 L669.37,178.76 L671.74,184.06 L674.12,189.64 L676.5,195.5"/><path d="M393.5,33.5 L395.88,33.79 L398.26,34.09 L400.63,34.39 L403.01,34.69 L405.39,35 L407.77,35.31 L410.15,35.63 L412.53,35.95 L414.9,36.28 L417.28,36.61 L419.66,36.94 L422.04,37.29 L424.42,37.63 L426.79,37.98 L429.17,38.34 L431.55,38.71 L433.93,39.07 L436.31,39.45 L438.68,39.83 L441.06,40.22 L443.44,40.61 L445.82,41.01 L448.2,41.42 L450.58,41.83 L452.95,42.25 L455.33,42.67 L457.71,43.11 L460.09,43.55 L462.47,44 L464.84,44.46 L467.22,44.92 L469.6,45.39 L471.98,45.88 L474.36,46.37 L476.74,46.87 L479.11,47.37 L481.49,47.89 L483.87,48.42 L486.25,48.96 L488.63,49.5 L491,50.06 L493.38,50.63 L495.76,51.21 L498.14,51.8 L500.52,52.4 L502.89,53.02 L505.27,53.64 L507.65,54.28 L510.03,54.94 L512.41,55.6 L514.79,56.28 L517.16,56.98 L519.54,57.69 L521.92,58.41 L524.3,59.15 L526.68,59.91 L529.05,60.68 L531.43,61.47 L533.81,62.28 L536.19,63.1 L538.57,63.95 L540.95,64.81 L543.32,65.7 L545.7,66.61 L548.08,67.54 L550.46,68.49 L552.84,69.46 L555.21,70.46 L557.59,71.48 L559.97,72.53 L562.35,73.61 L564.73,74.71 L567.11,75.85 L569.48,77.02 L571.86,78.23 L574.24,79.47 L576.62,80.74 L579,82.05 L581.37,83.39 L583.75,84.78 L586.13,86.2 L588.51,87.67 L590.89,89.18 L593.26,90.74 L595.64,92.34 L598.02,94 L600.4,95.7 L602.78,97.47 L605.16,99.29 L607.53,101.17 L609.91,103.11 L612.29,105.12 L614.67,107.19 L617.05,109.34 L619.42,111.57 L621.8,113.88 L624.18,116.27 L626.56,118.74 L628.94,121.31 L631.32,123.98 L633.69,126.75 L636.07,129.64 L638.45,132.63"/><path d="M393.5,35.4 L395.88,35.69 L398.26,35.98 L400.63,36.28 L403.01,36.58 L405.39,36.88 L407.77,37.19 L410.15,37.51 L412.53,37.82 L414.9,38.15 L417.28,38.48 L419.66,38.81 L422.04,39.15 L424.42,39.5 L426.79,39.85 L429.17,40.2 L431.55,40.56 L433.93,40.93 L436.31,41.3 L438.68,41.68 L441.06,42.07 L443.44,42.46 L445.82,42.86 L448.2,43.27 L450.58,43.68 L452.95,44.1 L455.33,44.53 L457.71,44.96 L460.09,45.4 L462.47,45.85 L464.84,46.31 L467.22,46.78 L469.6,47.25 L471.98,47.74 L474.36,48.23 L476.74,48.73 L479.11,49.24 L481.49,49.77 L483.87,50.3 L486.25,50.84 L488.63,51.39 L491,51.95 L493.38,52.52 L495.76,53.11 L498.14,53.71 L500.52,54.31 L502.89,54.94 L505.27,55.57 L507.65,56.22 L510.03,56.88 L512.41,57.55 L514.79,58.24 L517.16,58.94 L519.54,59.66 L521.92,60.39 L524.3,61.14 L526.68,61.91 L529.05,62.69 L531.43,63.5 L533.81,64.32 L536.19,65.15 L538.57,66.01 L540.95,66.89 L543.32,67.79 L545.7,68.71 L548.08,69.65 L550.46,70.62 L552.84,71.61 L555.21,72.62 L557.59,73.66 L559.97,74.72 L562.35,75.81 L564.73,76.93 L567.11,78.1 L569.48,79.32 L571.86,80.57 L574.24,81.86 L576.62,83.18 L579,84.54 L581.37,85.95 L583.75,87.39 L586.13,88.87 L588.51,90.4 L590.89,91.98 L593.26,93.61 L595.64,95.28 L598.02,97.01 L600.4,98.8 L602.78,100.64 L605.16,102.55 L607.53,104.52 L609.91,106.55 L612.29,108.66 L614.67,110.84 L617.05,113.09 L619.42,115.43 L621.8,117.85 L624.18,120.36 L626.56,122.96 L628.94,125.66 L631.32,128.46 L633.69,131.37 L636.07,134.4 L638.45,137.54 L640.83,140.82 L643.21,144.22 L645.58,147.76 L647.96,151.46 L650.34,155.3 L652.72,159.31 L655.1,163.49 L657.47,167.85 L659.85,172.4 L662.23,177.14 L664.61,182.1 L666.99,187.27 L669.37,192.66 L671.74,198.29 L674.12,204.15 L676.5,210.26"/><path d="M393.5,36.9 L395.88,37.19 L398.26,37.48 L400.63,37.77 L403.01,38.07 L405.39,38.38 L407.77,38.69 L410.15,39 L412.53,39.32 L414.9,39.64 L417.28,39.97 L419.66,40.3 L422.04,40.64 L424.42,40.99 L426.79,41.34 L429.17,41.69 L431.55,42.05 L433.93,42.42 L436.31,42.8 L438.68,43.18 L441.06,43.56 L443.44,43.96 L445.82,44.36 L448.2,44.77 L450.58,45.18 L452.95,45.6 L455.33,46.03 L457.71,46.47 L460.09,46.91 L462.47,47.37 L464.84,47.83 L467.22,48.3 L469.6,48.78 L471.98,49.27 L474.36,49.76 L476.74,50.27 L479.11,50.79 L481.49,51.31 L483.87,51.85 L486.25,52.4 L488.63,52.96 L491,53.52 L493.38,54.11 L495.76,54.7 L498.14,55.3 L500.52,55.92 L502.89,56.55 L505.27,57.19 L507.65,57.85 L510.03,58.52 L512.41,59.2 L514.79,59.9 L517.16,60.62 L519.54,61.35 L521.92,62.1 L524.3,62.86 L526.68,63.64 L529.05,64.44 L531.43,65.26 L533.81,66.09 L536.19,66.95 L538.57,67.82 L540.95,68.72 L543.32,69.63 L545.7,70.57 L548.08,71.54 L550.46,72.52 L552.84,73.53 L555.21,74.57 L557.59,75.63 L559.97,76.72 L562.35,77.84 L564.73,78.98 L567.11,80.18 L569.48,81.44 L571.86,82.74 L574.24,84.07 L576.62,85.44 L579,86.85 L581.37,88.3 L583.75,89.8 L586.13,91.34 L588.51,92.93 L590.89,94.57 L593.26,96.26 L595.64,98 L598.02,99.8 L600.4,101.66 L602.78,103.58 L605.16,105.56 L607.53,107.61 L609.91,109.73 L612.29,111.93 L614.67,114.2 L617.05,116.55 L619.42,118.99 L621.8,121.51 L624.18,124.13 L626.56,126.85 L628.94,129.67 L631.32,132.6 L633.69,135.64 L636.07,138.8 L638.45,142.08 L640.83,145.5 L643.21,149.05 L645.58,152.75 L647.96,156.6"/><path d="M393.5,38.11 L395.88,38.39 L398.26,38.69 L400.63,38.98 L403.01,39.28 L405.39,39.59 L407.77,39.9 L410.15,40.22 L412.53,40.54 L414.9,40.86 L417.28,41.19 L419.66,41.53 L422.04,41.87 L424.42,42.22 L426.79,42.58 L429.17,42.94 L431.55,43.3 L433.93,43.68 L436.31,44.06 L438.68,44.44 L441.06,44.83 L443.44,45.23 L445.82,45.64 L448.2,46.05 L450.58,46.47 L452.95,46.9 L455.33,47.34 L457.71,47.78 L460.09,48.24 L462.47,48.7 L464.84,49.17 L467.22,49.65 L469.6,50.14 L471.98,50.63 L474.36,51.14 L476.74,51.66 L479.11,52.19 L481.49,52.72 L483.87,53.27 L486.25,53.83 L488.63,54.4 L491,54.99 L493.38,55.58 L495.76,56.19 L498.14,56.81 L500.52,57.44 L502.89,58.09 L505.27,58.75 L507.65,59.43 L510.03,60.12 L512.41,60.82 L514.79,61.54 L517.16,62.28 L519.54,63.03 L521.92,63.8 L524.3,64.59 L526.68,65.4 L529.05,66.22 L531.43,67.07 L533.81,67.93 L536.19,68.82 L538.57,69.73 L540.95,70.66 L543.32,71.61 L545.7,72.59 L548.08,73.59 L550.46,74.61 L552.84,75.67 L555.21,76.75 L557.59,77.85 L559.97,78.99 L562.35,80.16 L564.73,81.36 L567.11,82.61 L569.48,83.92 L571.86,85.26 L574.24,86.65 L576.62,88.07 L579,89.54 L581.37,91.05 L583.75,92.61 L586.13,94.22 L588.51,95.87 L590.89,97.58 L593.26,99.35 L595.64,101.17 L598.02,103.05 L600.4,104.99 L602.78,107 L605.16,109.07 L607.53,111.22 L609.91,113.44 L612.29,115.74 L614.67,118.12 L617.05,120.59 L619.42,123.14 L621.8,125.79 L624.18,128.54 L626.56,131.39 L628.94,134.35 L631.32,137.42 L633.69,140.61 L636.07,143.93 L638.45,147.37 L640.83,150.96 L643.21,154.69 L645.58,158.56 L647.96,162.6 L650.34,166.8 L652.72,171.17 L655.1,175.72 L657.47,180.45 L659.85,185.38 L662.23,190.51 L664.61,195.84 L666.99,201.37 L669.37,207.12 L671.74,213.08 L674.12,219.25 L676.5,225.62"/><path d="M393.5,41.41 L395.88,41.72 L398.26,42.03 L400.63,42.36 L403.01,42.68 L405.39,43.01 L407.77,43.35 L410.15,43.69 L412.53,44.04 L414.9,44.39 L417.28,44.75 L419.66,45.12 L422.04,45.49 L424.42,45.87 L426.79,46.26 L429.17,46.65 L431.55,47.05 L433.93,47.46 L436.31,47.88 L438.68,48.3 L441.06,48.73 L443.44,49.17 L445.82,49.62 L448.2,50.08 L450.58,50.54 L452.95,51.02 L455.33,51.5 L457.71,51.99 L460.09,52.5 L462.47,53.01 L464.84,53.54 L467.22,54.07 L469.6,54.62 L471.98,55.18 L474.36,55.75 L476.74,56.33 L479.11,56.92 L481.49,57.53 L483.87,58.15 L486.25,58.79 L488.63,59.44 L491,60.1 L493.38,60.78 L495.76,61.48 L498.14,62.19 L500.52,62.92 L502.89,63.66 L505.27,64.43 L507.65,65.21 L510.03,66.01 L512.41,66.83 L514.79,67.67 L517.16,68.54 L519.54,69.42 L521.92,70.33 L524.3,71.27 L526.68,72.22 L529.05,73.21 L531.43,74.22 L533.81,75.26 L536.19,76.32 L538.57,77.42 L540.95,78.55 L543.32,79.7 L545.7,80.9 L548.08,82.13 L550.46,83.39 L552.84,84.69 L555.21,86.04 L557.59,87.42 L559.97,88.85 L562.35,90.32 L564.73,91.83 L567.11,93.35 L569.48,94.88 L571.86,96.44 L574.24,98.06 L576.62,99.73 L579,101.45 L581.37,103.23 L583.75,105.07 L586.13,106.96 L588.51,108.92 L590.89,110.94 L593.26,113.03 L595.64,115.2 L598.02,117.44 L600.4,119.75 L602.78,122.15 L605.16,124.63 L607.53,127.2 L609.91,129.87 L612.29,132.63 L614.67,135.49 L617.05,138.46 L619.42,141.54 L621.8,144.73 L624.18,148.05 L626.56,151.49 L628.94,155.07 L631.32,158.78 L633.69,162.64 L636.07,166.65 L638.45,170.82 L640.83,175.14 L643.21,179.64 L645.58,184.32 L647.96,189.17 L650.34,194.21 L652.72,199.45 L655.1,204.88 L657.47,210.51 L659.85,216.34 L662.23,222.37 L664.61,228.6"/><path d="M393.5,45.82 L395.88,46.13 L398.26,46.45 L400.63,46.77 L403.01,47.1 L405.39,47.43 L407.77,47.77 L410.15,48.12 L412.53,48.47 L414.9,48.83 L417.28,49.2 L419.66,49.57 L422.04,49.96 L424.42,50.34 L426.79,50.74 L429.17,51.14 L431.55,51.55 L433.93,51.97 L436.31,52.4 L438.68,52.84 L441.06,53.28 L443.44,53.73 L445.82,54.2 L448.2,54.67 L450.58,55.15 L452.95,55.64 L455.33,56.15 L457.71,56.66 L460.09,57.18 L462.47,57.72 L464.84,58.27 L467.22,58.83 L469.6,59.4 L471.98,59.98 L474.36,60.58 L476.74,61.19 L479.11,61.82 L481.49,62.46 L483.87,63.11 L486.25,63.78 L488.63,64.47 L491,65.17 L493.38,65.89 L495.76,66.63 L498.14,67.38 L500.52,68.16 L502.89,68.95 L505.27,69.77 L507.65,70.6 L510.03,71.46 L512.41,72.34 L514.79,73.24 L517.16,74.17 L519.54,75.12 L521.92,76.09 L524.3,77.1 L526.68,78.13 L529.05,79.19 L531.43,80.28 L533.81,81.4 L536.19,82.56 L538.57,83.75 L540.95,84.97 L543.32,86.23 L545.7,87.53 L548.08,88.86 L550.46,90.24 L552.84,91.66 L555.21,93.13 L557.59,94.64 L559.97,96.2 L562.35,97.82 L564.73,99.48 L567.11,101.15 L569.48,102.83 L571.86,104.56 L574.24,106.35 L576.62,108.19 L579,110.1 L581.37,112.07 L583.75,114.11 L586.13,116.21 L588.51,118.39 L590.89,120.64 L593.26,122.97 L595.64,125.38 L598.02,127.88 L600.4,130.47 L602.78,133.15 L605.16,135.92 L607.53,138.8 L609.91,141.79 L612.29,144.88 L614.67,148.1 L617.05,151.43 L619.42,154.89 L621.8,158.48 L624.18,162.21 L626.56,166.08 L628.94,170.11 L631.32,174.29 L633.69,178.63 L636.07,183.14 L638.45,187.83 L640.83,192.7 L643.21,197.76 L645.58,203.01 L647.96,208.46 L650.34,214.11 L652.72,219.97 L655.1,226.04"/><path d="M393.5,37.61 L395.88,37.89 L398.26,38.18 L400.63,38.48 L403.01,38.78 L405.39,39.08 L407.77,39.39 L410.15,39.71 L412.53,40.03 L414.9,40.35 L417.28,40.68 L419.66,41.02 L422.04,41.36 L424.42,41.71 L426.79,42.06 L429.17,42.42 L431.55,42.78 L433.93,43.15 L436.31,43.53 L438.68,43.91 L441.06,44.3 L443.44,44.7 L445.82,45.1 L448.2,45.51 L450.58,45.93 L452.95,46.36 L455.33,46.79 L457.71,47.23 L460.09,47.68 L462.47,48.14 L464.84,48.61 L467.22,49.08 L469.6,49.57 L471.98,50.06 L474.36,50.56 L476.74,51.07 L479.11,51.6 L481.49,52.13 L483.87,52.67 L486.25,53.23 L488.63,53.79 L491,54.37 L493.38,54.96 L495.76,55.56 L498.14,56.17 L500.52,56.8 L502.89,57.44 L505.27,58.09 L507.65,58.76 L510.03,59.44 L512.41,60.14 L514.79,60.85 L517.16,61.57 L519.54,62.32 L521.92,63.08 L524.3,63.86 L526.68,64.65 L529.05,65.46 L531.43,66.3 L533.81,67.15 L536.19,68.02 L538.57,68.92 L540.95,69.83 L543.32,70.77 L545.7,71.73 L548.08,72.71 L550.46,73.72 L552.84,74.75 L555.21,75.81 L557.59,76.9 L559.97,78.02 L562.35,79.16 L564.73,80.34 L567.11,81.57 L569.48,82.86 L571.86,84.18 L574.24,85.54 L576.62,86.94 L579,88.39 L581.37,89.87 L583.75,91.41 L586.13,92.98 L588.51,94.61 L590.89,96.29 L593.26,98.02 L595.64,99.81 L598.02,101.65 L600.4,103.56 L602.78,105.53 L605.16,107.57 L607.53,109.67 L609.91,111.85 L612.29,114.1 L614.67,116.44 L617.05,118.86 L619.42,121.36 L621.8,123.96 L624.18,126.65 L626.56,129.44 L628.94,132.34 L631.32,135.35 L633.69,138.48 L636.07,141.73 L638.45,145.11 L640.83,148.62 L643.21,152.27 L645.58,156.07 L647.96,160.03 L650.34,164.14 L652.72,168.43 L655.1,172.9 L657.47,177.54 L659.85,182.38 L662.23,187.42 L664.61,192.67 L666.99,198.12 L669.37,203.78 L671.74,209.67 L674.12,215.76 L676.5,222.07"/><path d="M393.5,39.41 L395.88,39.69 L398.26,39.99 L400.63,40.28 L403.01,40.58 L405.39,40.89 L407.77,41.2 L410.15,41.52 L412.53,41.84 L414.9,42.17 L417.28,42.5 L419.66,42.84 L422.04,43.18 L424.42,43.53 L426.79,43.89 L429.17,44.25 L431.55,44.62 L433.93,44.99 L436.31,45.37 L438.68,45.76 L441.06,46.16 L443.44,46.56 L445.82,46.97 L448.2,47.38 L450.58,47.81 L452.95,48.24 L455.33,48.68 L457.71,49.13 L460.09,49.59 L462.47,50.05 L464.84,50.53 L467.22,51.01 L469.6,51.51 L471.98,52.01 L474.36,52.53 L476.74,53.05 L479.11,53.58 L481.49,54.13 L483.87,54.69 L486.25,55.25 L488.63,55.83 L491,56.43 L493.38,57.03 L495.76,57.65 L498.14,58.28 L500.52,58.92 L502.89,59.58 L505.27,60.25 L507.65,60.94 L510.03,61.64 L512.41,62.36 L514.79,63.1 L517.16,63.85 L519.54,64.62 L521.92,65.4 L524.3,66.21 L526.68,67.03 L529.05,67.88 L531.43,68.74 L533.81,69.63 L536.19,70.53 L538.57,71.46 L540.95,72.41 L543.32,73.39 L545.7,74.39 L548.08,75.42 L550.46,76.47 L552.84,77.55 L555.21,78.66 L557.59,79.8 L559.97,80.97 L562.35,82.17 L564.73,83.4 L567.11,84.69 L569.48,86.04 L571.86,87.43 L574.24,88.86 L576.62,90.33 L579,91.85 L581.37,93.41 L583.75,95.02 L586.13,96.68 L588.51,98.4 L590.89,100.17 L593.26,102 L595.64,103.88 L598.02,105.83 L600.4,107.85 L602.78,109.93 L605.16,112.08 L607.53,114.31 L609.91,116.62 L612.29,119.01 L614.67,121.48 L617.05,124.04 L619.42,126.7 L621.8,129.46 L624.18,132.31 L626.56,135.28 L628.94,138.36 L631.32,141.56 L633.69,144.88 L636.07,148.33 L638.45,151.91 L640.83,155.64 L643.21,159.52 L645.58,163.55 L647.96,167.74 L650.34,172.1 L652.72,176.64 L655.1,181.36 L657.47,186.27 L659.85,191.37 L662.23,196.67 L664.61,202.18 L666.99,207.88 L669.37,213.8 L671.74,219.91 L674.12,226.22"/><path d="M393.5,40.91 L395.88,41.2 L398.26,41.49 L400.63,41.79 L403.01,42.1 L405.39,42.4 L407.77,42.72 L410.15,43.04 L412.53,43.36 L414.9,43.69 L417.28,44.03 L419.66,44.37 L422.04,44.72 L424.42,45.07 L426.79,45.43 L429.17,45.8 L431.55,46.17 L433.93,46.55 L436.31,46.94 L438.68,47.33 L441.06,47.73 L443.44,48.14 L445.82,48.56 L448.2,48.98 L450.58,49.42 L452.95,49.86 L455.33,50.31 L457.71,50.76 L460.09,51.23 L462.47,51.71 L464.84,52.19 L467.22,52.69 L469.6,53.19 L471.98,53.71 L474.36,54.23 L476.74,54.77 L479.11,55.31 L481.49,55.87 L483.87,56.44 L486.25,57.03 L488.63,57.62 L491,58.23 L493.38,58.85 L495.76,59.49 L498.14,60.14 L500.52,60.8 L502.89,61.48 L505.27,62.17 L507.65,62.88 L510.03,63.61 L512.41,64.35 L514.79,65.11 L517.16,65.89 L519.54,66.68 L521.92,67.5 L524.3,68.33 L526.68,69.19 L529.05,70.06 L531.43,70.96 L533.81,71.88 L536.19,72.82 L538.57,73.79 L540.95,74.78 L543.32,75.8 L545.7,76.85 L548.08,77.92 L550.46,79.02 L552.84,80.15 L555.21,81.31 L557.59,82.5 L559.97,83.73 L562.35,84.99 L564.73,86.28 L567.11,87.63 L569.48,89.04 L571.86,90.49 L574.24,91.99 L576.62,93.53 L579,95.11 L581.37,96.75 L583.75,98.44 L586.13,100.18 L588.51,101.98 L590.89,103.83 L593.26,105.75 L595.64,107.73 L598.02,109.78 L600.4,111.89 L602.78,114.08 L605.16,116.35 L607.53,118.69 L609.91,121.12 L612.29,123.64 L614.67,126.24 L617.05,128.94 L619.42,131.75 L621.8,134.65 L624.18,137.66 L626.56,140.79 L628.94,144.04 L631.32,147.41 L633.69,150.92 L636.07,154.56 L638.45,158.34 L640.83,162.27 L643.21,166.36 L645.58,170.61 L647.96,175.03 L650.34,179.62 L652.72,184.4 L655.1,189.36 L657.47,194.51 L659.85,199.86 L662.23,205.41 L664.61,211.16 L666.99,217.11 L669.37,223.25 L671.74,229.58"/><g stroke-dasharray="3,3" stroke="#d6d6d6"><path d="M664.61,228.6 L666.99,235.01 L669.37,241.61 L671.74,248.36 L674.12,255.24 L676.5,262.22"/><path d="M655.1,226.04 L657.47,232.32 L659.85,238.81 L662.23,245.5 L664.61,252.37 L666.99,259.43 L669.37,266.64 L671.74,273.96 L674.12,281.37 L676.5,288.79"/><path d="M674.12,226.22 L676.5,232.7"/><path d="M671.74,229.58 L674.12,236.09 L676.5,242.74"/></g></g>
<g clip-path="url(#clipb)"><path d="M393.5,22.1 L395.28,22.23 L397.06,22.36 L398.84,22.48 L400.62,22.61 L402.4,22.74 L404.18,22.86 L405.96,22.99 L407.74,23.11 L409.52,23.24 L411.3,23.36 L413.08,23.49 L414.86,23.61 L416.64,23.73 L418.42,23.85 L420.2,23.98 L421.98,24.1 L423.76,24.22 L425.54,24.33 L427.32,24.44 L429.1,24.55 L430.88,24.66 L432.66,24.77 L434.44,24.88 L436.22,24.99 L438,25.12 L439.78,25.24 L441.56,25.38 L443.34,25.53 L445.12,25.68 L446.9,25.85 L448.68,26.02 L450.46,26.2 L452.24,26.39 L454.02,26.58 L455.8,26.78 L457.58,26.99 L459.36,27.21 L461.14,27.43 L462.92,27.65 L464.69,27.89 L466.47,28.13 L468.25,28.37 L470.03,28.62 L471.81,28.87 L473.59,29.13 L475.37,29.4 L477.15,29.66 L478.93,29.94 L480.71,30.21 L482.49,30.51 L484.27,30.83 L486.05,31.16 L487.83,31.51 L489.61,31.86 L491.39,32.23 L493.17,32.6 L494.95,32.97 L496.73,33.34 L498.51,33.7 L500.29,34.06 L502.07,34.41 L503.85,34.76 L505.63,35.1 L507.41,35.44 L509.19,35.78 L510.97,36.12 L512.75,36.46 L514.53,36.8 L516.31,37.14 L518.09,37.48 L519.87,37.83 L521.65,38.18 L523.43,38.53 L525.21,38.89 L526.99,39.25 L528.77,39.61 L530.55,39.99 L532.33,40.37 L534.11,40.76 L535.89,41.15 L537.67,41.56 L539.45,41.97 L541.23,42.39 L543.01,42.83 L544.79,43.28 L546.57,43.75 L548.35,44.22 L550.13,44.71 L551.91,45.21 L553.69,45.72 L555.47,46.24 L557.25,46.76 L559.03,47.3 L560.81,47.85 L562.59,48.41 L564.37,48.99 L566.15,49.59 L567.93,50.22 L569.71,50.89 L571.49,51.6 L573.27,52.37 L575.05,53.17 L576.83,54.01 L578.61,54.85 L580.39,55.68 L582.17,56.57 L583.95,57.44 L585.73,58.18 L587.51,58.81 L589.29,59.38 L591.07,59.93 L592.85,60.5 L594.63,61.15 L596.41,61.89 L598.19,62.68 L599.97,63.53 L601.75,64.46 L603.53,65.48 L605.31,66.61 L607.08,68.03 L608.86,69.63 L610.64,71.12 L612.42,72.53 L614.2,73.91 L615.98,75.26 L617.76,76.59 L619.54,77.9 L621.32,79.19 L623.1,80.49 L624.88,81.79 L626.66,83.1 L628.44,84.42 L630.22,85.76 L632,87.13 L633.78,88.54 L635.56,89.98 L637.34,91.47 L639.12,93.02 L640.9,94.62 L642.68,96.28 L644.46,98.01 L646.24,99.83 L648.02,101.74 L649.8,103.77 L651.58,105.95 L653.36,108.32 L655.14,110.83 L656.92,113.43 L658.7,116.07 L660.48,118.72 L662.26,121.46 L664.04,124.3 L665.82,127.17 L667.6,130.04 L669.38,132.84 L671.16,135.53 L672.94,138.12 L674.72,140.64 L676.5,143.1 L676.5,165.5 L674.72,163.17 L672.94,160.48 L671.16,157.5 L669.38,154.26 L667.6,150.46 L665.82,146.09 L664.04,141.62 L662.26,137.54 L660.48,133.98 L658.7,130.63 L656.92,127.52 L655.14,124.71 L653.36,122.22 L651.58,119.98 L649.8,117.89 L648.02,115.86 L646.24,113.8 L644.46,111.62 L642.68,109.3 L640.9,107.05 L639.12,105.03 L637.34,103.1 L635.56,101.22 L633.78,99.37 L632,97.57 L630.22,95.8 L628.44,94.07 L626.66,92.38 L624.88,90.73 L623.1,89.11 L621.32,87.53 L619.54,85.98 L617.76,84.46 L615.98,82.98 L614.2,81.52 L612.42,80.1 L610.64,78.7 L608.86,77.33 L607.08,75.97 L605.31,74.64 L603.53,73.35 L601.75,72.11 L599.97,70.92 L598.19,69.8 L596.41,68.76 L594.63,67.81 L592.85,66.97 L591.07,66.22 L589.29,65.51 L587.51,64.8 L585.73,64.04 L583.95,63.17 L582.17,62.21 L580.39,61.28 L578.61,60.47 L576.83,59.71 L575.05,58.99 L573.27,58.29 L571.49,57.59 L569.71,56.88 L567.93,56.17 L566.15,55.47 L564.37,54.77 L562.59,54.06 L560.81,53.34 L559.03,52.58 L557.25,51.75 L555.47,50.9 L553.69,50.06 L551.91,49.29 L550.13,48.64 L548.35,48.11 L546.57,47.65 L544.79,47.23 L543.01,46.82 L541.23,46.41 L539.45,45.96 L537.67,45.48 L535.89,45 L534.11,44.51 L532.33,44 L530.55,43.49 L528.77,42.98 L526.99,42.46 L525.21,41.94 L523.43,41.42 L521.65,40.89 L519.87,40.37 L518.09,39.85 L516.31,39.33 L514.53,38.82 L512.75,38.32 L510.97,37.82 L509.19,37.33 L507.41,36.85 L505.63,36.39 L503.85,35.93 L502.07,35.49 L500.29,35.07 L498.51,34.66 L496.73,34.25 L494.95,33.85 L493.17,33.45 L491.39,33.06 L489.61,32.69 L487.83,32.32 L486.05,31.97 L484.27,31.63 L482.49,31.32 L480.71,31.01 L478.93,30.73 L477.15,30.46 L475.37,30.19 L473.59,29.92 L471.81,29.66 L470.03,29.41 L468.25,29.16 L466.47,28.92 L464.69,28.68 L462.92,28.45 L461.14,28.23 L459.36,28.01 L457.58,27.8 L455.8,27.6 L454.02,27.4 L452.24,27.2 L450.46,27.02 L448.68,26.83 L446.9,26.66 L445.12,26.49 L443.34,26.33 L441.56,26.18 L439.78,26.03 L438,25.89 L436.22,25.76 L434.44,25.64 L432.66,25.51 L430.88,25.4 L429.1,25.28 L427.32,25.16 L425.54,25.04 L423.76,24.92 L421.98,24.8 L420.2,24.67 L418.42,24.55 L416.64,24.42 L414.86,24.3 L413.08,24.17 L411.3,24.04 L409.52,23.92 L407.74,23.79 L405.96,23.67 L404.18,23.54 L402.4,23.42 L400.62,23.3 L398.84,23.17 L397.06,23.05 L395.28,22.92 L393.5,22.8Z" fill="#9c9cf6" fill-opacity="0.92"/><path d="M525.21,39.8 L526.99,40.21 L528.77,40.62 L530.55,41.04 L532.33,41.46 L534.11,41.88 L535.89,42.31 L537.67,42.73 L539.45,43.17 L541.23,43.6 L543.01,44.03 L544.79,44.47 L546.57,44.92 L548.35,45.39 L550.13,45.89 L551.91,46.43 L553.69,47.02 L555.47,47.63 L557.25,48.26 L559.03,48.89 L560.81,49.5 L562.59,50.11 L564.37,50.72 L566.15,51.36 L567.93,52.01 L569.71,52.69 L571.49,53.4 L573.27,54.14 L575.05,54.92 L576.83,55.72 L578.61,56.53 L580.39,57.36 L582.17,58.26 L583.95,59.16 L585.73,59.94 L587.51,60.61 L589.29,61.22 L591.07,61.81 L592.85,62.44 L594.63,63.15 L596.41,63.95 L598.19,64.81 L599.97,65.74 L601.75,66.75 L603.53,67.84 L605.31,69.02 L607.08,70.41 L608.86,71.94 L610.64,73.39 L612.42,74.8 L614.2,76.19 L615.98,77.57 L617.76,78.95 L619.54,80.32 L621.32,81.69 L623.1,83.08 L624.88,84.47 L626.66,85.88 L628.44,87.31 L630.22,88.77 L632,90.26 L633.78,91.79 L635.56,93.35 L637.34,94.96 L639.12,96.62 L640.9,98.35 L642.68,100.19 L644.46,102.09 L646.24,104.02 L648.02,105.98 L649.8,108 L651.58,110.16 L653.36,112.49 L655.14,114.99 L656.92,117.65 L658.7,120.44 L660.48,123.3 L662.26,126.28 L664.04,129.49 L665.82,132.85 L667.6,136.17 L669.38,139.27 L671.16,142.12 L672.94,144.83 L674.72,147.4 L676.5,149.82" fill="none" stroke="#7070dd" stroke-width="0.7" stroke-opacity="0.45"/><path d="M525.21,41.08 L526.99,41.56 L528.77,42.04 L530.55,42.51 L532.33,42.99 L534.11,43.46 L535.89,43.92 L537.67,44.38 L539.45,44.84 L541.23,45.28 L543.01,45.71 L544.79,46.12 L546.57,46.56 L548.35,47.02 L550.13,47.54 L551.91,48.15 L553.69,48.85 L555.47,49.59 L557.25,50.36 L559.03,51.1 L560.81,51.8 L562.59,52.48 L564.37,53.15 L566.15,53.82 L567.93,54.51 L569.71,55.2 L571.49,55.92 L573.27,56.63 L575.05,57.36 L576.83,58.12 L578.61,58.9 L580.39,59.72 L582.17,60.63 L583.95,61.57 L585.73,62.4 L587.51,63.12 L589.29,63.8 L591.07,64.46 L592.85,65.16 L594.63,65.94 L596.41,66.83 L598.19,67.8 L599.97,68.85 L601.75,69.96 L603.53,71.15 L605.31,72.39 L607.08,73.75 L608.86,75.17 L610.64,76.58 L612.42,77.98 L614.2,79.39 L615.98,80.82 L617.76,82.26 L619.54,83.72 L621.32,85.19 L623.1,86.7 L624.88,88.23 L626.66,89.78 L628.44,91.37 L630.22,92.99 L632,94.64 L633.78,96.34 L635.56,98.07 L637.34,99.85 L639.12,101.67 L640.9,103.57 L642.68,105.66 L644.46,107.81 L646.24,109.89 L648.02,111.91 L649.8,113.94 L651.58,116.05 L653.36,118.33 L655.14,120.82 L656.92,123.57 L658.7,126.55 L660.48,129.71 L662.26,133.04 L664.04,136.77 L665.82,140.79 L667.6,144.74 L669.38,148.27 L671.16,151.35 L672.94,154.22 L674.72,156.86 L676.5,159.23" fill="none" stroke="#7070dd" stroke-width="0.7" stroke-opacity="0.45"/><path d="M393.5,27.4 L395.28,27.5 L397.06,27.61 L398.84,27.72 L400.62,27.84 L402.4,27.97 L404.18,28.1 L405.96,28.23 L407.74,28.37 L409.52,28.51 L411.3,28.65 L413.08,28.8 L414.86,28.96 L416.64,29.11 L418.42,29.27 L420.2,29.43 L421.98,29.6 L423.76,29.77 L425.54,29.95 L427.32,30.13 L429.1,30.33 L430.88,30.53 L432.66,30.73 L434.44,30.95 L436.22,31.16 L438,31.38 L439.78,31.6 L441.56,31.82 L443.34,32.04 L445.12,32.27 L446.9,32.49 L448.68,32.72 L450.46,32.95 L452.24,33.18 L454.02,33.42 L455.8,33.66 L457.58,33.9 L459.36,34.14 L461.14,34.39 L462.92,34.64 L464.69,34.89 L466.47,35.15 L468.25,35.4 L470.03,35.67 L471.81,35.93 L473.59,36.2 L475.37,36.47 L477.15,36.75 L478.93,37.03 L480.71,37.31 L482.49,37.6 L484.27,37.9 L486.05,38.2 L487.83,38.5 L489.61,38.81 L491.39,39.13 L493.17,39.46 L494.95,39.8 L496.73,40.14 L498.51,40.5 L500.29,40.86 L502.07,41.23 L503.85,41.61 L505.63,42 L507.41,42.39 L509.19,42.8 L510.97,43.2 L512.75,43.62 L514.53,44.04 L516.31,44.48 L518.09,44.91 L519.87,45.36 L521.65,45.82 L523.43,46.28 L525.21,46.75 L526.99,47.23 L528.77,47.72 L530.55,48.22 L532.33,48.72 L534.11,49.23 L535.89,49.76 L537.67,50.29 L539.45,50.83 L541.23,51.38 L543.01,51.95 L544.79,52.54 L546.57,53.15 L548.35,53.77 L550.13,54.42 L551.91,55.08 L553.69,55.77 L555.47,56.48 L557.25,57.22 L559.03,57.98 L560.81,58.76 L562.59,59.6 L564.37,60.49 L566.15,61.43 L567.93,62.4 L569.71,63.4 L571.49,64.42 L573.27,65.44 L575.05,66.48 L576.83,67.5 L578.61,68.52 L580.39,69.51 L582.17,70.49 L583.95,71.44 L585.73,72.38 L587.51,73.31 L589.29,74.23 L591.07,75.16 L592.85,76.09 L594.63,77.03 L596.41,77.99 L598.19,78.97 L599.97,79.97 L601.75,81 L603.53,82.06 L605.31,83.17 L607.08,84.31 L608.86,85.51 L610.64,86.76 L612.42,88.06 L614.2,89.4 L615.98,90.8 L617.76,92.24 L619.54,93.72 L621.32,95.26 L623.1,96.83 L624.88,98.46 L626.66,100.12 L628.44,101.83 L630.22,103.58 L632,105.37 L633.78,107.21 L635.56,109.09 L637.34,111 L639.12,112.96 L640.9,114.96 L642.68,116.99 L644.46,119.07 L646.24,121.22 L648.02,123.56 L649.8,126.05 L651.58,128.66 L653.36,131.35 L655.14,134.07 L656.92,136.8 L658.7,139.49 L660.48,142.1 L662.26,144.69 L664.04,147.28 L665.82,149.87 L667.6,152.47 L669.38,155.07 L671.16,157.67 L672.94,160.28 L674.72,162.89 L676.5,165.5 L676.5,189.5 L674.72,186.88 L672.94,184.21 L671.16,181.49 L669.38,178.72 L667.6,175.89 L665.82,173.01 L664.04,170.07 L662.26,166.99 L660.48,163.74 L658.7,160.35 L656.92,156.89 L655.14,153.4 L653.36,149.93 L651.58,146.54 L649.8,143.28 L648.02,140.19 L646.24,137.33 L644.46,134.74 L642.68,132.27 L640.9,129.86 L639.12,127.5 L637.34,125.2 L635.56,122.95 L633.78,120.76 L632,118.63 L630.22,116.54 L628.44,114.51 L626.66,112.54 L624.88,110.62 L623.1,108.74 L621.32,106.92 L619.54,105.15 L617.76,103.43 L615.98,101.76 L614.2,100.14 L612.42,98.57 L610.64,97.04 L608.86,95.56 L607.08,94.13 L605.31,92.75 L603.53,91.41 L601.75,90.11 L599.97,88.85 L598.19,87.62 L596.41,86.42 L594.63,85.25 L592.85,84.11 L591.07,82.98 L589.29,81.88 L587.51,80.79 L585.73,79.71 L583.95,78.65 L582.17,77.59 L580.39,76.53 L578.61,75.47 L576.83,74.41 L575.05,73.34 L573.27,72.28 L571.49,71.22 L569.71,70.16 L567.93,69.11 L566.15,68.07 L564.37,67.04 L562.59,66.02 L560.81,65.02 L559.03,64.04 L557.25,63.08 L555.47,62.14 L553.69,61.23 L551.91,60.34 L550.13,59.49 L548.35,58.66 L546.57,57.87 L544.79,57.12 L543.01,56.41 L541.23,55.74 L539.45,55.11 L537.67,54.51 L535.89,53.94 L534.11,53.39 L532.33,52.86 L530.55,52.34 L528.77,51.85 L526.99,51.37 L525.21,50.91 L523.43,50.46 L521.65,50.02 L519.87,49.59 L518.09,49.16 L516.31,48.75 L514.53,48.33 L512.75,47.92 L510.97,47.51 L509.19,47.1 L507.41,46.69 L505.63,46.27 L503.85,45.85 L502.07,45.41 L500.29,44.97 L498.51,44.52 L496.73,44.06 L494.95,43.6 L493.17,43.13 L491.39,42.67 L489.61,42.21 L487.83,41.76 L486.05,41.33 L484.27,40.91 L482.49,40.51 L480.71,40.14 L478.93,39.79 L477.15,39.46 L475.37,39.13 L473.59,38.81 L471.81,38.5 L470.03,38.19 L468.25,37.9 L466.47,37.61 L464.69,37.32 L462.92,37.05 L461.14,36.77 L459.36,36.51 L457.58,36.24 L455.8,35.98 L454.02,35.73 L452.24,35.48 L450.46,35.23 L448.68,34.98 L446.9,34.73 L445.12,34.49 L443.34,34.25 L441.56,34 L439.78,33.76 L438,33.53 L436.22,33.3 L434.44,33.07 L432.66,32.84 L430.88,32.62 L429.1,32.41 L427.32,32.2 L425.54,31.99 L423.76,31.79 L421.98,31.6 L420.2,31.41 L418.42,31.22 L416.64,31.03 L414.86,30.85 L413.08,30.67 L411.3,30.49 L409.52,30.31 L407.74,30.14 L405.96,29.97 L404.18,29.81 L402.4,29.65 L400.62,29.49 L398.84,29.34 L397.06,29.19 L395.28,29.04 L393.5,28.9Z" fill="#fca0a0" fill-opacity="0.92"/><path d="M484.27,38.8 L486.05,39.14 L487.83,39.48 L489.61,39.83 L491.39,40.19 L493.17,40.56 L494.95,40.94 L496.73,41.32 L498.51,41.7 L500.29,42.09 L502.07,42.49 L503.85,42.88 L505.63,43.28 L507.41,43.68 L509.19,44.09 L510.97,44.5 L512.75,44.91 L514.53,45.33 L516.31,45.76 L518.09,46.19 L519.87,46.63 L521.65,47.08 L523.43,47.53 L525.21,48 L526.99,48.47 L528.77,48.96 L530.55,49.45 L532.33,49.96 L534.11,50.48 L535.89,51.01 L537.67,51.56 L539.45,52.11 L541.23,52.69 L543.01,53.29 L544.79,53.91 L546.57,54.56 L548.35,55.24 L550.13,55.94 L551.91,56.66 L553.69,57.41 L555.47,58.18 L557.25,58.97 L559.03,59.79 L560.81,60.64 L562.59,61.53 L564.37,62.46 L566.15,63.42 L567.93,64.41 L569.71,65.43 L571.49,66.46 L573.27,67.5 L575.05,68.54 L576.83,69.58 L578.61,70.61 L580.39,71.62 L582.17,72.62 L583.95,73.6 L585.73,74.58 L587.51,75.55 L589.29,76.53 L591.07,77.51 L592.85,78.5 L594.63,79.5 L596.41,80.52 L598.19,81.56 L599.97,82.63 L601.75,83.73 L603.53,84.87 L605.31,86.04 L607.08,87.26 L608.86,88.53 L610.64,89.84 L612.42,91.21 L614.2,92.62 L615.98,94.09 L617.76,95.6 L619.54,97.15 L621.32,98.76 L623.1,100.41 L624.88,102.1 L626.66,103.85 L628.44,105.63 L630.22,107.47 L632,109.35 L633.78,111.28 L635.56,113.25 L637.34,115.26 L639.12,117.32 L640.9,119.43 L642.68,121.58 L644.46,123.77 L646.24,126.05 L648.02,128.55 L649.8,131.22 L651.58,134.03 L653.36,136.92 L655.14,139.87 L656.92,142.83 L658.7,145.75 L660.48,148.59 L662.26,151.38 L664.04,154.12 L665.82,156.82 L667.6,159.5 L669.38,162.17 L671.16,164.82 L672.94,167.46 L674.72,170.09 L676.5,172.7" fill="none" stroke="#dd8080" stroke-width="0.7" stroke-opacity="0.45"/><path d="M484.27,40.07 L486.05,40.45 L487.83,40.85 L489.61,41.26 L491.39,41.68 L493.17,42.1 L494.95,42.53 L496.73,42.96 L498.51,43.39 L500.29,43.82 L502.07,44.24 L503.85,44.66 L505.63,45.07 L507.41,45.49 L509.19,45.9 L510.97,46.31 L512.75,46.72 L514.53,47.13 L516.31,47.55 L518.09,47.97 L519.87,48.4 L521.65,48.84 L523.43,49.29 L525.21,49.75 L526.99,50.21 L528.77,50.69 L530.55,51.19 L532.33,51.7 L534.11,52.22 L535.89,52.77 L537.67,53.33 L539.45,53.91 L541.23,54.52 L543.01,55.16 L544.79,55.84 L546.57,56.55 L548.35,57.29 L550.13,58.07 L551.91,58.87 L553.69,59.7 L555.47,60.55 L557.25,61.44 L559.03,62.34 L560.81,63.27 L562.59,64.22 L564.37,65.2 L566.15,66.21 L567.93,67.23 L569.71,68.27 L571.49,69.31 L573.27,70.37 L575.05,71.42 L576.83,72.48 L578.61,73.52 L580.39,74.57 L582.17,75.6 L583.95,76.63 L585.73,77.66 L587.51,78.7 L589.29,79.74 L591.07,80.79 L592.85,81.86 L594.63,82.95 L596.41,84.06 L598.19,85.2 L599.97,86.36 L601.75,87.56 L603.53,88.79 L605.31,90.07 L607.08,91.38 L608.86,92.75 L610.64,94.16 L612.42,95.62 L614.2,97.13 L615.98,98.69 L617.76,100.3 L619.54,101.95 L621.32,103.66 L623.1,105.41 L624.88,107.21 L626.66,109.06 L628.44,110.96 L630.22,112.91 L632,114.92 L633.78,116.97 L635.56,119.07 L637.34,121.22 L639.12,123.43 L640.9,125.68 L642.68,127.99 L644.46,130.35 L646.24,132.82 L648.02,135.53 L649.8,138.45 L651.58,141.53 L653.36,144.73 L655.14,147.99 L656.92,151.27 L658.7,154.51 L660.48,157.68 L662.26,160.75 L664.04,163.69 L665.82,166.53 L667.6,169.33 L669.38,172.1 L671.16,174.82 L672.94,177.51 L674.72,180.16 L676.5,182.78" fill="none" stroke="#dd8080" stroke-width="0.7" stroke-opacity="0.45"/><path d="M393.5,32.3 L395.28,32.45 L397.06,32.61 L398.84,32.78 L400.62,32.95 L402.4,33.13 L404.18,33.31 L405.96,33.5 L407.74,33.69 L409.52,33.89 L411.3,34.09 L413.08,34.3 L414.86,34.51 L416.64,34.73 L418.42,34.95 L420.2,35.17 L421.98,35.4 L423.76,35.63 L425.54,35.87 L427.32,36.12 L429.1,36.37 L430.88,36.63 L432.66,36.9 L434.44,37.18 L436.22,37.46 L438,37.75 L439.78,38.05 L441.56,38.35 L443.34,38.66 L445.12,38.97 L446.9,39.3 L448.68,39.63 L450.46,39.97 L452.24,40.31 L454.02,40.67 L455.8,41.03 L457.58,41.39 L459.36,41.76 L461.14,42.14 L462.92,42.52 L464.69,42.91 L466.47,43.3 L468.25,43.7 L470.03,44.1 L471.81,44.5 L473.59,44.91 L475.37,45.32 L477.15,45.73 L478.93,46.15 L480.71,46.57 L482.49,47 L484.27,47.43 L486.05,47.88 L487.83,48.33 L489.61,48.79 L491.39,49.26 L493.17,49.73 L494.95,50.21 L496.73,50.7 L498.51,51.19 L500.29,51.68 L502.07,52.17 L503.85,52.66 L505.63,53.15 L507.41,53.64 L509.19,54.13 L510.97,54.62 L512.75,55.11 L514.53,55.6 L516.31,56.1 L518.09,56.61 L519.87,57.12 L521.65,57.65 L523.43,58.18 L525.21,58.72 L526.99,59.28 L528.77,59.84 L530.55,60.43 L532.33,61.02 L534.11,61.64 L535.89,62.27 L537.67,62.92 L539.45,63.59 L541.23,64.28 L543.01,65.01 L544.79,65.76 L546.57,66.54 L548.35,67.35 L550.13,68.18 L551.91,69.04 L553.69,69.92 L555.47,70.83 L557.25,71.75 L559.03,72.69 L560.81,73.65 L562.59,74.63 L564.37,75.62 L566.15,76.63 L567.93,77.65 L569.71,78.68 L571.49,79.72 L573.27,80.77 L575.05,81.83 L576.83,82.89 L578.61,83.96 L580.39,85.03 L582.17,86.11 L583.95,87.21 L585.73,88.32 L587.51,89.44 L589.29,90.59 L591.07,91.75 L592.85,92.93 L594.63,94.13 L596.41,95.36 L598.19,96.62 L599.97,97.9 L601.75,99.21 L603.53,100.55 L605.31,101.92 L607.08,103.32 L608.86,104.76 L610.64,106.24 L612.42,107.76 L614.2,109.31 L615.98,110.91 L617.76,112.55 L619.54,114.23 L621.32,115.94 L623.1,117.7 L624.88,119.49 L626.66,121.33 L628.44,123.2 L630.22,125.1 L632,127.05 L633.78,129.02 L635.56,131.04 L637.34,133.09 L639.12,135.17 L640.9,137.29 L642.68,139.45 L644.46,141.63 L646.24,143.88 L648.02,146.27 L649.8,148.77 L651.58,151.36 L653.36,154.02 L655.14,156.72 L656.92,159.44 L658.7,162.15 L660.48,164.82 L662.26,167.49 L664.04,170.18 L665.82,172.89 L667.6,175.62 L669.38,178.36 L671.16,181.12 L672.94,183.89 L674.72,186.69 L676.5,189.5 L676.5,218.2 L674.72,215.08 L672.94,211.96 L671.16,208.84 L669.38,205.73 L667.6,202.62 L665.82,199.51 L664.04,196.36 L662.26,193.14 L660.48,189.88 L658.7,186.61 L656.92,183.34 L655.14,180.11 L653.36,176.93 L651.58,173.82 L649.8,170.82 L648.02,167.94 L646.24,165.21 L644.46,162.64 L642.68,160.17 L640.9,157.76 L639.12,155.42 L637.34,153.13 L635.56,150.89 L633.78,148.71 L632,146.57 L630.22,144.47 L628.44,142.42 L626.66,140.39 L624.88,138.4 L623.1,136.44 L621.32,134.5 L619.54,132.59 L617.76,130.69 L615.98,128.8 L614.2,126.92 L612.42,125.05 L610.64,123.18 L608.86,121.3 L607.08,119.43 L605.31,117.55 L603.53,115.67 L601.75,113.8 L599.97,111.95 L598.19,110.12 L596.41,108.31 L594.63,106.53 L592.85,104.79 L591.07,103.08 L589.29,101.42 L587.51,99.81 L585.73,98.26 L583.95,96.77 L582.17,95.34 L580.39,93.98 L578.61,92.69 L576.83,91.42 L575.05,90.17 L573.27,88.94 L571.49,87.74 L569.71,86.57 L567.93,85.42 L566.15,84.29 L564.37,83.18 L562.59,82.1 L560.81,81.05 L559.03,80.01 L557.25,79.01 L555.47,78.02 L553.69,77.06 L551.91,76.13 L550.13,75.22 L548.35,74.33 L546.57,73.47 L544.79,72.63 L543.01,71.82 L541.23,71.03 L539.45,70.27 L537.67,69.53 L535.89,68.81 L534.11,68.11 L532.33,67.43 L530.55,66.77 L528.77,66.13 L526.99,65.5 L525.21,64.89 L523.43,64.29 L521.65,63.7 L519.87,63.12 L518.09,62.55 L516.31,61.99 L514.53,61.44 L512.75,60.89 L510.97,60.35 L509.19,59.8 L507.41,59.26 L505.63,58.72 L503.85,58.18 L502.07,57.64 L500.29,57.09 L498.51,56.54 L496.73,56 L494.95,55.46 L493.17,54.93 L491.39,54.4 L489.61,53.88 L487.83,53.37 L486.05,52.86 L484.27,52.36 L482.49,51.87 L480.71,51.39 L478.93,50.92 L477.15,50.44 L475.37,49.97 L473.59,49.5 L471.81,49.03 L470.03,48.56 L468.25,48.1 L466.47,47.64 L464.69,47.18 L462.92,46.73 L461.14,46.29 L459.36,45.85 L457.58,45.42 L455.8,45 L454.02,44.58 L452.24,44.17 L450.46,43.77 L448.68,43.38 L446.9,43 L445.12,42.63 L443.34,42.27 L441.56,41.92 L439.78,41.57 L438,41.24 L436.22,40.91 L434.44,40.6 L432.66,40.29 L430.88,39.98 L429.1,39.69 L427.32,39.4 L425.54,39.13 L423.76,38.86 L421.98,38.6 L420.2,38.34 L418.42,38.09 L416.64,37.84 L414.86,37.6 L413.08,37.36 L411.3,37.13 L409.52,36.9 L407.74,36.67 L405.96,36.45 L404.18,36.24 L402.4,36.03 L400.62,35.83 L398.84,35.64 L397.06,35.45 L395.28,35.27 L393.5,35.1Z" fill="#9ccc9c" fill-opacity="0.92"/><path d="M409.52,34.79 L411.3,35 L413.08,35.22 L414.86,35.44 L416.64,35.66 L418.42,35.89 L420.2,36.12 L421.98,36.36 L423.76,36.6 L425.54,36.85 L427.32,37.1 L429.1,37.37 L430.88,37.64 L432.66,37.92 L434.44,38.2 L436.22,38.5 L438,38.8 L439.78,39.11 L441.56,39.42 L443.34,39.74 L445.12,40.07 L446.9,40.41 L448.68,40.75 L450.46,41.11 L452.24,41.47 L454.02,41.84 L455.8,42.22 L457.58,42.6 L459.36,42.99 L461.14,43.39 L462.92,43.79 L464.69,44.19 L466.47,44.6 L468.25,45.02 L470.03,45.44 L471.81,45.86 L473.59,46.29 L475.37,46.71 L477.15,47.15 L478.93,47.58 L480.71,48.02 L482.49,48.46 L484.27,48.91 L486.05,49.37 L487.83,49.84 L489.61,50.32 L491.39,50.8 L493.17,51.29 L494.95,51.79 L496.73,52.29 L498.51,52.79 L500.29,53.3 L502.07,53.81 L503.85,54.32 L505.63,54.82 L507.41,55.33 L509.19,55.83 L510.97,56.33 L512.75,56.84 L514.53,57.35 L516.31,57.87 L518.09,58.39 L519.87,58.92 L521.65,59.46 L523.43,60.01 L525.21,60.57 L526.99,61.14 L528.77,61.73 L530.55,62.33 L532.33,62.95 L534.11,63.58 L535.89,64.23 L537.67,64.9 L539.45,65.59 L541.23,66.31 L543.01,67.05 L544.79,67.82 L546.57,68.62 L548.35,69.44 L550.13,70.29 L551.91,71.17 L553.69,72.07 L555.47,72.99 L557.25,73.93 L559.03,74.89 L560.81,75.87 L562.59,76.87 L564.37,77.89 L566.15,78.93 L567.93,79.98 L569.71,81.05 L571.49,82.13 L573.27,83.22 L575.05,84.33 L576.83,85.45 L578.61,86.58 L580.39,87.72 L582.17,88.88 L583.95,90.08 L585.73,91.3 L587.51,92.55 L589.29,93.84 L591.07,95.15 L592.85,96.49 L594.63,97.85 L596.41,99.25 L598.19,100.67 L599.97,102.11 L601.75,103.59 L603.53,105.08 L605.31,106.61 L607.08,108.15 L608.86,109.73 L610.64,111.32 L612.42,112.94 L614.2,114.6 L615.98,116.28 L617.76,117.99 L619.54,119.74 L621.32,121.51 L623.1,123.32 L624.88,125.17 L626.66,127.05 L628.44,128.96 L630.22,130.91 L632,132.9 L633.78,134.93 L635.56,137 L637.34,139.1 L639.12,141.25 L640.9,143.43 L642.68,145.66 L644.46,147.94 L646.24,150.28 L648.02,152.77 L649.8,155.38 L651.58,158.1 L653.36,160.89 L655.14,163.74 L656.92,166.61 L658.7,169.48 L660.48,172.34 L662.26,175.19 L664.04,178.04 L665.82,180.88 L667.6,183.72 L669.38,186.57 L671.16,189.43 L672.94,192.31 L674.72,195.21 L676.5,198.11" fill="none" stroke="#70a870" stroke-width="0.7" stroke-opacity="0.45"/><path d="M409.52,36.05 L411.3,36.28 L413.08,36.5 L414.86,36.73 L416.64,36.97 L418.42,37.21 L420.2,37.45 L421.98,37.7 L423.76,37.95 L425.54,38.21 L427.32,38.48 L429.1,38.76 L430.88,39.05 L432.66,39.34 L434.44,39.64 L436.22,39.95 L438,40.26 L439.78,40.59 L441.56,40.92 L443.34,41.26 L445.12,41.6 L446.9,41.96 L448.68,42.33 L450.46,42.71 L452.24,43.09 L454.02,43.48 L455.8,43.88 L457.58,44.29 L459.36,44.71 L461.14,45.13 L462.92,45.56 L464.69,45.99 L466.47,46.42 L468.25,46.87 L470.03,47.31 L471.81,47.76 L473.59,48.21 L475.37,48.67 L477.15,49.12 L478.93,49.58 L480.71,50.04 L482.49,50.51 L484.27,50.98 L486.05,51.47 L487.83,51.96 L489.61,52.46 L491.39,52.96 L493.17,53.47 L494.95,53.99 L496.73,54.51 L498.51,55.04 L500.29,55.58 L502.07,56.11 L503.85,56.64 L505.63,57.16 L507.41,57.69 L509.19,58.21 L510.97,58.74 L512.75,59.27 L514.53,59.8 L516.31,60.34 L518.09,60.89 L519.87,61.44 L521.65,62 L523.43,62.58 L525.21,63.16 L526.99,63.76 L528.77,64.37 L530.55,64.99 L532.33,65.64 L534.11,66.3 L535.89,66.98 L537.67,67.68 L539.45,68.4 L541.23,69.14 L543.01,69.91 L544.79,70.71 L546.57,71.53 L548.35,72.38 L550.13,73.25 L551.91,74.14 L553.69,75.06 L555.47,76.01 L557.25,76.97 L559.03,77.96 L560.81,78.98 L562.59,80.01 L564.37,81.07 L566.15,82.14 L567.93,83.24 L569.71,84.36 L571.49,85.5 L573.27,86.66 L575.05,87.83 L576.83,89.03 L578.61,90.24 L580.39,91.48 L582.17,92.76 L583.95,94.09 L585.73,95.48 L587.51,96.91 L589.29,98.39 L591.07,99.91 L592.85,101.47 L594.63,103.06 L596.41,104.68 L598.19,106.34 L599.97,108.02 L601.75,109.72 L603.53,111.44 L605.31,113.17 L607.08,114.92 L608.86,116.67 L610.64,118.43 L612.42,120.21 L614.2,121.99 L615.98,123.79 L617.76,125.61 L619.54,127.45 L621.32,129.31 L623.1,131.19 L624.88,133.11 L626.66,135.06 L628.44,137.03 L630.22,139.05 L632,141.1 L633.78,143.2 L635.56,145.33 L637.34,147.52 L639.12,149.75 L640.9,152.03 L642.68,154.37 L644.46,156.76 L646.24,159.24 L648.02,161.87 L649.8,164.64 L651.58,167.53 L653.36,170.51 L655.14,173.56 L656.92,176.65 L658.7,179.76 L660.48,182.86 L662.26,185.96 L664.04,189.03 L665.82,192.06 L667.6,195.06 L669.38,198.06 L671.16,201.08 L672.94,204.1 L674.72,207.13 L676.5,210.16" fill="none" stroke="#70a870" stroke-width="0.7" stroke-opacity="0.45"/></g>
<text x="401.8" y="15.2" font-size="9.2" class="nb" textLength="11.8" lengthAdjust="spacingAndGlyphs">(b)</text>
<path d="M420.9,211.2H449.6" stroke="#0000ff" stroke-width="2"/>
<path d="M420.9,222.8H449.6" stroke="#ff0000" stroke-width="2"/>
<path d="M420.9,234.4H449.6" stroke="#008000" stroke-width="2"/>
<path d="M420.9,246.1H449.6" stroke="#d3d3d3" stroke-width="1"/>
<text x="459.4" y="214.4" font-size="9.4" class="nb" textLength="57.9" lengthAdjust="spacingAndGlyphs">0.5x Nominal</text>
<text x="459.4" y="226.05" font-size="9.4" class="nb" textLength="57.4" lengthAdjust="spacingAndGlyphs">1.0x Nominal</text>
<text x="459.4" y="237.7" font-size="9.4" class="nb" textLength="57.4" lengthAdjust="spacingAndGlyphs">2.0x Nominal</text>
<text x="459.4" y="249.35" font-size="9.4" class="nb" textLength="38.3" lengthAdjust="spacingAndGlyphs">Data Fits</text>
<text x="420.1" y="187.8" font-size="9.2" class="nb" textLength="90" lengthAdjust="spacingAndGlyphs">v<tspan font-size="6.6" dy="1.8" font-style="italic">sw</tspan><tspan dy="-1.8">=340 - 420 km s</tspan><tspan font-size="6.2" dy="-3.4">-1</tspan></text>
<path d="M393.5,270v-4.7M393.5,0.6v4.2M397.54,270v-2.7M397.54,0.6v2.2M401.59,270v-2.7M401.59,0.6v2.2M405.63,270v-2.7M405.63,0.6v2.2M409.67,270v-2.7M409.67,0.6v2.2M413.71,270v-2.7M413.71,0.6v2.2M417.76,270v-2.7M417.76,0.6v2.2M421.8,270v-2.7M421.8,0.6v2.2M425.84,270v-2.7M425.84,0.6v2.2M429.89,270v-2.7M429.89,0.6v2.2M433.93,270v-4.7M433.93,0.6v4.2M437.97,270v-2.7M437.97,0.6v2.2M442.01,270v-2.7M442.01,0.6v2.2M446.06,270v-2.7M446.06,0.6v2.2M450.1,270v-2.7M450.1,0.6v2.2M454.14,270v-2.7M454.14,0.6v2.2M458.19,270v-2.7M458.19,0.6v2.2M462.23,270v-2.7M462.23,0.6v2.2M466.27,270v-2.7M466.27,0.6v2.2M470.31,270v-2.7M470.31,0.6v2.2M474.36,270v-4.7M474.36,0.6v4.2M478.4,270v-2.7M478.4,0.6v2.2M482.44,270v-2.7M482.44,0.6v2.2M486.49,270v-2.7M486.49,0.6v2.2M490.53,270v-2.7M490.53,0.6v2.2M494.57,270v-2.7M494.57,0.6v2.2M498.61,270v-2.7M498.61,0.6v2.2M502.66,270v-2.7M502.66,0.6v2.2M506.7,270v-2.7M506.7,0.6v2.2M510.74,270v-2.7M510.74,0.6v2.2M514.79,270v-4.7M514.79,0.6v4.2M518.83,270v-2.7M518.83,0.6v2.2M522.87,270v-2.7M522.87,0.6v2.2M526.91,270v-2.7M526.91,0.6v2.2M530.96,270v-2.7M530.96,0.6v2.2M535,270v-2.7M535,0.6v2.2M539.04,270v-2.7M539.04,0.6v2.2M543.09,270v-2.7M543.09,0.6v2.2M547.13,270v-2.7M547.13,0.6v2.2M551.17,270v-2.7M551.17,0.6v2.2M555.21,270v-4.7M555.21,0.6v4.2M559.26,270v-2.7M559.26,0.6v2.2M563.3,270v-2.7M563.3,0.6v2.2M567.34,270v-2.7M567.34,0.6v2.2M571.39,270v-2.7M571.39,0.6v2.2M575.43,270v-2.7M575.43,0.6v2.2M579.47,270v-2.7M579.47,0.6v2.2M583.51,270v-2.7M583.51,0.6v2.2M587.56,270v-2.7M587.56,0.6v2.2M591.6,270v-2.7M591.6,0.6v2.2M595.64,270v-4.7M595.64,0.6v4.2M599.69,270v-2.7M599.69,0.6v2.2M603.73,270v-2.7M603.73,0.6v2.2M607.77,270v-2.7M607.77,0.6v2.2M611.81,270v-2.7M611.81,0.6v2.2M615.86,270v-2.7M615.86,0.6v2.2M619.9,270v-2.7M619.9,0.6v2.2M623.94,270v-2.7M623.94,0.6v2.2M627.99,270v-2.7M627.99,0.6v2.2M632.03,270v-2.7M632.03,0.6v2.2M636.07,270v-4.7M636.07,0.6v4.2M640.11,270v-2.7M640.11,0.6v2.2M644.16,270v-2.7M644.16,0.6v2.2M648.2,270v-2.7M648.2,0.6v2.2M652.24,270v-2.7M652.24,0.6v2.2M656.29,270v-2.7M656.29,0.6v2.2M660.33,270v-2.7M660.33,0.6v2.2M664.37,270v-2.7M664.37,0.6v2.2M668.41,270v-2.7M668.41,0.6v2.2M672.46,270v-2.7M672.46,0.6v2.2M676.5,270v-4.7M676.5,0.6v4.2M393.5,269.3h2.2M676.5,269.3h-2.2M393.5,263.93h2.2M676.5,263.93h-2.2M393.5,258.55h2.2M676.5,258.55h-2.2M393.5,253.18h2.2M676.5,253.18h-2.2M393.5,247.8h2.2M676.5,247.8h-2.2M393.5,242.43h4.2M676.5,242.43h-4.2M393.5,237.06h2.2M676.5,237.06h-2.2M393.5,231.68h2.2M676.5,231.68h-2.2M393.5,226.31h2.2M676.5,226.31h-2.2M393.5,220.93h2.2M676.5,220.93h-2.2M393.5,215.56h2.2M676.5,215.56h-2.2M393.5,210.19h2.2M676.5,210.19h-2.2M393.5,204.81h2.2M676.5,204.81h-2.2M393.5,199.44h2.2M676.5,199.44h-2.2M393.5,194.06h2.2M676.5,194.06h-2.2M393.5,188.69h4.2M676.5,188.69h-4.2M393.5,183.32h2.2M676.5,183.32h-2.2M393.5,177.94h2.2M676.5,177.94h-2.2M393.5,172.57h2.2M676.5,172.57h-2.2M393.5,167.19h2.2M676.5,167.19h-2.2M393.5,161.82h2.2M676.5,161.82h-2.2M393.5,156.45h2.2M676.5,156.45h-2.2M393.5,151.07h2.2M676.5,151.07h-2.2M393.5,145.7h2.2M676.5,145.7h-2.2M393.5,140.32h2.2M676.5,140.32h-2.2M393.5,134.95h4.2M676.5,134.95h-4.2M393.5,129.58h2.2M676.5,129.58h-2.2M393.5,124.2h2.2M676.5,124.2h-2.2M393.5,118.83h2.2M676.5,118.83h-2.2M393.5,113.45h2.2M676.5,113.45h-2.2M393.5,108.08h2.2M676.5,108.08h-2.2M393.5,102.71h2.2M676.5,102.71h-2.2M393.5,97.33h2.2M676.5,97.33h-2.2M393.5,91.96h2.2M676.5,91.96h-2.2M393.5,86.58h2.2M676.5,86.58h-2.2M393.5,81.21h4.2M676.5,81.21h-4.2M393.5,75.84h2.2M676.5,75.84h-2.2M393.5,70.46h2.2M676.5,70.46h-2.2M393.5,65.09h2.2M676.5,65.09h-2.2M393.5,59.71h2.2M676.5,59.71h-2.2M393.5,54.34h2.2M676.5,54.34h-2.2M393.5,48.97h2.2M676.5,48.97h-2.2M393.5,43.59h2.2M676.5,43.59h-2.2M393.5,38.22h2.2M676.5,38.22h-2.2M393.5,32.84h2.2M676.5,32.84h-2.2M393.5,27.47h4.2M676.5,27.47h-4.2M393.5,22.1h2.2M676.5,22.1h-2.2M393.5,16.72h2.2M676.5,16.72h-2.2M393.5,11.35h2.2M676.5,11.35h-2.2M393.5,5.97h2.2M676.5,5.97h-2.2M393.5,0.6h2.2M676.5,0.6h-2.2" stroke="#4a4a4a" stroke-width="0.75" fill="none"/>
<rect x="393.5" y="0.5" width="283" height="269.5" fill="none" stroke="#888" stroke-width="1"/>
<text x="393.5" y="282.4" font-size="12.8" text-anchor="middle">0.9</text>
<text x="433.93" y="282.4" font-size="12.8" text-anchor="middle">0.8</text>
<text x="474.36" y="282.4" font-size="12.8" text-anchor="middle">0.7</text>
<text x="514.79" y="282.4" font-size="12.8" text-anchor="middle">0.6</text>
<text x="555.21" y="282.4" font-size="12.8" text-anchor="middle">0.5</text>
<text x="595.64" y="282.4" font-size="12.8" text-anchor="middle">0.4</text>
<text x="636.07" y="282.4" font-size="12.8" text-anchor="middle">0.3</text>
<text x="676.5" y="282.4" font-size="12.8" text-anchor="middle">0.2</text>
<text x="387.4" y="32.47" font-size="12.8" text-anchor="end">0</text>
<text x="387.4" y="86.21" font-size="12.8" text-anchor="end">-10</text>
<text x="387.4" y="139.95" font-size="12.8" text-anchor="end">-20</text>
<text x="387.4" y="193.69" font-size="12.8" text-anchor="end">-30</text>
<text x="387.4" y="247.43" font-size="12.8" text-anchor="end">-40</text>
<text x="535.2" y="294" font-size="12" text-anchor="middle" textLength="157.5" lengthAdjust="spacingAndGlyphs">Observed Frequency [MHz]</text>
<text transform="translate(363.5,136.3) rotate(-90)" font-size="12" text-anchor="middle" textLength="74" lengthAdjust="spacingAndGlyphs">Δ<tspan font-style="italic">θ</tspan> [degrees]</text>
</svg>
</body></html>
